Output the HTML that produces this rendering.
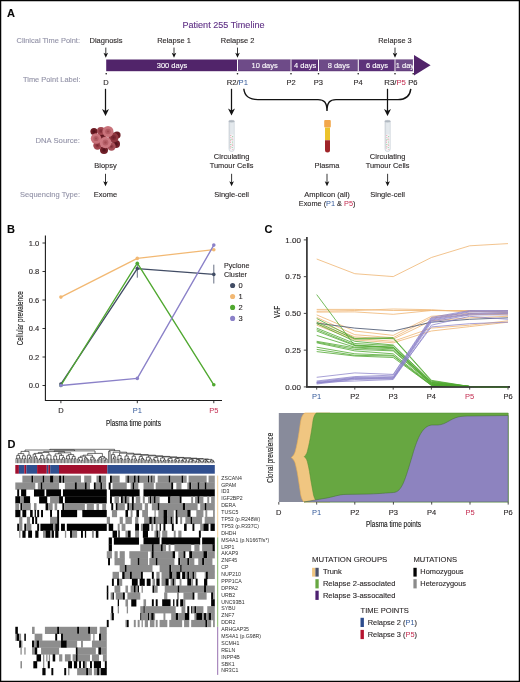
<!DOCTYPE html>
<html><head><meta charset="utf-8"><title>Patient 255 Timeline</title>
<style>
html,body{margin:0;padding:0;background:#fff;}
svg{display:block;font-family:"Liberation Sans", Arial, sans-serif;}
text{stroke-width:0.12px;}
</style></head><body>
<svg width="520" height="682" viewBox="0 0 520 682">
<rect x="0" y="0" width="520" height="682" fill="#fff"/>
<g style="opacity:0.99;isolation:isolate"><text opacity="0.99" x="7" y="17" font-size="11" fill="#000" stroke="#000" font-weight="bold">A</text>
<text opacity="0.99" x="182.5" y="28" font-size="9" fill="#5b2c83" stroke="#5b2c83" textLength="82" lengthAdjust="spacingAndGlyphs">Patient 255 Timeline</text>
<text opacity="0.99" x="80" y="42.5" font-size="7.5" fill="#9191a6" stroke="#9191a6" stroke-width="0.05" text-anchor="end" textLength="63.5" lengthAdjust="spacingAndGlyphs">Clinical Time Point:</text>
<text opacity="0.99" x="80.5" y="82" font-size="7.5" fill="#9191a6" stroke="#9191a6" stroke-width="0.05" text-anchor="end" textLength="57.5" lengthAdjust="spacingAndGlyphs">Time Point Label:</text>
<text opacity="0.99" x="80" y="142.5" font-size="7.5" fill="#9191a6" stroke="#9191a6" stroke-width="0.05" text-anchor="end" textLength="44.5" lengthAdjust="spacingAndGlyphs">DNA Source:</text>
<text opacity="0.99" x="80" y="196.5" font-size="7.5" fill="#9191a6" stroke="#9191a6" stroke-width="0.05" text-anchor="end">Sequencing Type:</text>
<text opacity="0.99" x="106" y="42.5" font-size="7.5" fill="#231f20" stroke="#231f20" text-anchor="middle" textLength="33" lengthAdjust="spacingAndGlyphs">Diagnosis</text>
<text opacity="0.99" x="174" y="42.5" font-size="7.5" fill="#231f20" stroke="#231f20" text-anchor="middle" textLength="33.75" lengthAdjust="spacingAndGlyphs">Relapse 1</text>
<text opacity="0.99" x="237.6" y="42.5" font-size="7.5" fill="#231f20" stroke="#231f20" text-anchor="middle" textLength="33.75" lengthAdjust="spacingAndGlyphs">Relapse 2</text>
<text opacity="0.99" x="395" y="42.5" font-size="7.5" fill="#231f20" stroke="#231f20" text-anchor="middle" textLength="33.5" lengthAdjust="spacingAndGlyphs">Relapse 3</text>
<line x1="105.8" y1="47.6" x2="105.8" y2="55.20" stroke="#111" stroke-width="0.85"/>
<path d="M103.5 52.70 L105.8 54.10 L108.1 52.70 L105.8 57.7 Z" fill="#111"/>
<line x1="174" y1="47.6" x2="174" y2="55.20" stroke="#111" stroke-width="0.85"/>
<path d="M171.7 52.70 L174 54.10 L176.3 52.70 L174 57.7 Z" fill="#111"/>
<line x1="237.5" y1="47.6" x2="237.5" y2="55.20" stroke="#111" stroke-width="0.85"/>
<path d="M235.2 52.70 L237.5 54.10 L239.8 52.70 L237.5 57.7 Z" fill="#111"/>
<line x1="395" y1="47.6" x2="395" y2="55.20" stroke="#111" stroke-width="0.85"/>
<path d="M392.7 52.70 L395 54.10 L397.3 52.70 L395 57.7 Z" fill="#111"/>
<rect x="106.2" y="59.5" width="307.3" height="11.7" fill="#4f2269"/>
<text opacity="0.99" x="172.0" y="67.8" font-size="7.5" fill="#fff" stroke="#fff" text-anchor="middle">300 days</text>
<rect x="237" y="59.4" width="1.1" height="11.9" fill="#fff"/>
<rect x="238.3" y="60" width="51.9" height="10.7" fill="#6d4987"/>
<text opacity="0.99" x="264.65" y="67.8" font-size="7.5" fill="#fff" stroke="#fff" text-anchor="middle">10 days</text>
<rect x="290.5" y="59.4" width="1.1" height="11.9" fill="#fff"/>
<rect x="291.8" y="60" width="25.9" height="10.7" fill="#5c3079"/>
<text opacity="0.99" x="305.15" y="67.8" font-size="7.5" fill="#fff" stroke="#fff" text-anchor="middle">4 days</text>
<rect x="318" y="59.4" width="1.1" height="11.9" fill="#fff"/>
<rect x="319.3" y="60" width="38.09999999999999" height="10.7" fill="#6d4987"/>
<text opacity="0.99" x="338.75" y="67.8" font-size="7.5" fill="#fff" stroke="#fff" text-anchor="middle">8 days</text>
<rect x="357.7" y="59.4" width="1.1" height="11.9" fill="#fff"/>
<rect x="359.0" y="60" width="35.20000000000001" height="10.7" fill="#5c3079"/>
<text opacity="0.99" x="377.0" y="67.8" font-size="7.5" fill="#fff" stroke="#fff" text-anchor="middle">6 days</text>
<rect x="394.5" y="59.4" width="1.1" height="11.9" fill="#fff"/>
<rect x="395.8" y="60" width="17.4" height="10.7" fill="#6d4987"/>
<text opacity="0.99" x="404.9" y="67.8" font-size="7.5" fill="#fff" stroke="#fff" text-anchor="middle">1 day</text>
<rect x="412.9" y="59.4" width="1.1" height="11.9" fill="#fff"/>
<path d="M414 55 L430.6 65.3 L414 75.6 Z" fill="#4f2269"/>
<circle cx="106.2" cy="73.7" r="0.8" fill="#111"/>
<circle cx="237.5" cy="73.7" r="0.8" fill="#111"/>
<circle cx="291" cy="73.7" r="0.8" fill="#111"/>
<circle cx="318.5" cy="73.7" r="0.8" fill="#111"/>
<circle cx="358.2" cy="73.7" r="0.8" fill="#111"/>
<circle cx="395" cy="73.7" r="0.8" fill="#111"/>
<circle cx="413.2" cy="73.7" r="0.8" fill="#111"/>
<text opacity="0.99" x="106" y="84.5" font-size="7.5" fill="#231f20" stroke="#231f20" text-anchor="middle">D</text>
<text opacity="0.99" x="226.75" y="84.5" font-size="7.5" fill="#231f20" stroke="#231f20" textLength="21.25" lengthAdjust="spacingAndGlyphs">R2/<tspan fill="#2f5597" stroke="none">P1</tspan></text>
<text opacity="0.99" x="291" y="84.5" font-size="7.5" fill="#231f20" stroke="#231f20" text-anchor="middle">P2</text>
<text opacity="0.99" x="318.3" y="84.5" font-size="7.5" fill="#231f20" stroke="#231f20" text-anchor="middle">P3</text>
<text opacity="0.99" x="358" y="84.5" font-size="7.5" fill="#231f20" stroke="#231f20" text-anchor="middle">P4</text>
<text opacity="0.99" x="384.25" y="84.5" font-size="7.5" fill="#231f20" stroke="#231f20" textLength="21.75" lengthAdjust="spacingAndGlyphs">R3/<tspan fill="#c2284c" stroke="none">P5</tspan></text>
<text opacity="0.99" x="408.25" y="84.5" font-size="7.5" fill="#231f20" stroke="#231f20" textLength="9.25" lengthAdjust="spacingAndGlyphs">P6</text>
<line x1="105.5" y1="88.8" x2="105.5" y2="112.50" stroke="#111" stroke-width="1.25"/>
<path d="M102.0 109.00 L105.5 110.96 L109.0 109.00 L105.5 116 Z" fill="#111"/>
<line x1="231.5" y1="88.8" x2="231.5" y2="112.00" stroke="#111" stroke-width="1.25"/>
<path d="M228.0 108.50 L231.5 110.46 L235.0 108.50 L231.5 115.5 Z" fill="#111"/>
<line x1="387.5" y1="88.8" x2="387.5" y2="112.50" stroke="#111" stroke-width="1.25"/>
<path d="M384.0 109.00 L387.5 110.96 L391.0 109.00 L387.5 116 Z" fill="#111"/>
<path d="M243.8 88.8 C244.5 96 249 99.6 258 99.6 L318 99.6 C324 99.6 327 102 327 111 C327 102 330 99.6 336 99.6 L398 99.6 C406 99.6 410 96 410.8 88.8" fill="none" stroke="#111" stroke-width="1.4"/>
<circle cx="94" cy="131.5" r="3.6" fill="#6b1a22"/>
<circle cx="94" cy="131.5" r="1.8" fill="#4a0f16" opacity="0.55"/>
<circle cx="94" cy="131.5" r="0.7" fill="#4a0f16"/>
<circle cx="117" cy="135" r="3.6" fill="#6b1a22"/>
<circle cx="117" cy="135" r="1.8" fill="#4a0f16" opacity="0.55"/>
<circle cx="117" cy="135" r="0.7" fill="#4a0f16"/>
<circle cx="116" cy="144" r="4" fill="#6f1d26"/>
<circle cx="116" cy="144" r="2.0" fill="#4a0f16" opacity="0.55"/>
<circle cx="116" cy="144" r="0.8" fill="#4a0f16"/>
<circle cx="104" cy="150" r="4" fill="#6f1d26"/>
<circle cx="104" cy="150" r="2.0" fill="#4a0f16" opacity="0.55"/>
<circle cx="104" cy="150" r="0.8" fill="#4a0f16"/>
<circle cx="102" cy="135.5" r="4.2" fill="#7e2a33"/>
<circle cx="102" cy="135.5" r="2.1" fill="#5a151d" opacity="0.55"/>
<circle cx="102" cy="135.5" r="0.8" fill="#5a151d"/>
<circle cx="101" cy="131" r="4" fill="#a0454e"/>
<circle cx="101" cy="131" r="2.0" fill="#7a2630" opacity="0.55"/>
<circle cx="101" cy="131" r="0.8" fill="#7a2630"/>
<circle cx="113.5" cy="137.5" r="5" fill="#8e343d"/>
<circle cx="113.5" cy="137.5" r="2.5" fill="#6a1c26" opacity="0.55"/>
<circle cx="113.5" cy="137.5" r="1.0" fill="#6a1c26"/>
<circle cx="97.5" cy="145.5" r="4.2" fill="#a0454e"/>
<circle cx="97.5" cy="145.5" r="2.1" fill="#7a2630" opacity="0.55"/>
<circle cx="97.5" cy="145.5" r="0.8" fill="#7a2630"/>
<circle cx="111.5" cy="146.5" r="4.2" fill="#a64e57"/>
<circle cx="111.5" cy="146.5" r="2.1" fill="#7e2a33" opacity="0.55"/>
<circle cx="111.5" cy="146.5" r="0.8" fill="#7e2a33"/>
<circle cx="108" cy="131.5" r="5.5" fill="#c9727a"/>
<circle cx="108" cy="131.5" r="2.8" fill="#a04850" opacity="0.55"/>
<circle cx="108" cy="131.5" r="1.1" fill="#a04850"/>
<circle cx="96" cy="138.5" r="5.2" fill="#c9727a"/>
<circle cx="96" cy="138.5" r="2.6" fill="#a04850" opacity="0.55"/>
<circle cx="96" cy="138.5" r="1.0" fill="#a04850"/>
<circle cx="105.5" cy="142.5" r="5.8" fill="#cc7880"/>
<circle cx="105.5" cy="142.5" r="2.9" fill="#a24a52" opacity="0.55"/>
<circle cx="105.5" cy="142.5" r="1.2" fill="#a24a52"/>
<text opacity="0.99" x="105.5" y="168" font-size="7.5" fill="#231f20" stroke="#231f20" text-anchor="middle" textLength="22.5" lengthAdjust="spacingAndGlyphs">Biopsy</text>
<line x1="105.5" y1="173.8" x2="105.5" y2="183.70" stroke="#111" stroke-width="0.85"/>
<path d="M103.2 181.20 L105.5 182.60 L107.8 181.20 L105.5 186.2 Z" fill="#111"/>
<text opacity="0.99" x="105.5" y="196.5" font-size="7.5" fill="#231f20" stroke="#231f20" text-anchor="middle">Exome</text>
<path d="M228.9 121.2 L228.9 148.9 A2.7 2.7 0 0 0 234.29999999999998 148.9 L234.29999999999998 121.2 Z" fill="#e4e9ed" stroke="#c3cbd2" stroke-width="0.5"/>
<path d="M229.7 134.6 L229.7 148.9 A1.9 1.9 0 0 0 233.5 148.9 L233.5 134.6 Z" fill="#f4f6f8"/>
<rect x="229.0" y="121.6" width="1.1" height="27" fill="#cfd6dc" opacity="0.8"/>
<ellipse cx="231.6" cy="121.2" rx="2.9" ry="0.95" fill="#b4bcc4" stroke="#9aa3ac" stroke-width="0.3"/>
<circle cx="230.8" cy="135.5" r="0.5" fill="#e48a94"/>
<circle cx="232.7" cy="136.6" r="0.5" fill="#7cc888"/>
<circle cx="230.8" cy="137.5" r="0.5" fill="#e9a0a8"/>
<circle cx="232.2" cy="138.1" r="0.5" fill="#e9a0a8"/>
<circle cx="231.0" cy="139.2" r="0.5" fill="#6fc07a"/>
<circle cx="232.7" cy="139.8" r="0.5" fill="#e48a94"/>
<circle cx="230.7" cy="140.8" r="0.5" fill="#e48a94"/>
<circle cx="232.5" cy="141.9" r="0.5" fill="#7cc888"/>
<circle cx="230.4" cy="142.6" r="0.5" fill="#e9a0a8"/>
<circle cx="232.4" cy="143.9" r="0.5" fill="#e9a0a8"/>
<circle cx="230.9" cy="144.4" r="0.5" fill="#6fc07a"/>
<circle cx="232.7" cy="145.3" r="0.5" fill="#e48a94"/>
<circle cx="230.8" cy="146.2" r="0.5" fill="#e48a94"/>
<circle cx="232.2" cy="147.6" r="0.5" fill="#7cc888"/>
<circle cx="230.5" cy="148.1" r="0.5" fill="#e9a0a8"/>
<circle cx="232.8" cy="149.4" r="0.5" fill="#e9a0a8"/>
<text opacity="0.99" x="231.6" y="158.8" font-size="7.5" fill="#231f20" stroke="#231f20" text-anchor="middle" textLength="35.5" lengthAdjust="spacingAndGlyphs">Circulating</text>
<text opacity="0.99" x="231.6" y="168" font-size="7.5" fill="#231f20" stroke="#231f20" text-anchor="middle" textLength="43.75" lengthAdjust="spacingAndGlyphs">Tumour Cells</text>
<line x1="231.6" y1="173.8" x2="231.6" y2="183.70" stroke="#111" stroke-width="0.85"/>
<path d="M229.29999999999998 181.20 L231.6 182.60 L233.9 181.20 L231.6 186.2 Z" fill="#111"/>
<text opacity="0.99" x="231.6" y="196.5" font-size="7.5" fill="#231f20" stroke="#231f20" text-anchor="middle" textLength="34.75" lengthAdjust="spacingAndGlyphs">Single-cell</text>
<path d="M384.90000000000003 121.2 L384.90000000000003 148.9 A2.7 2.7 0 0 0 390.3 148.9 L390.3 121.2 Z" fill="#e4e9ed" stroke="#c3cbd2" stroke-width="0.5"/>
<path d="M385.70000000000005 134.6 L385.70000000000005 148.9 A1.9 1.9 0 0 0 389.5 148.9 L389.5 134.6 Z" fill="#f4f6f8"/>
<rect x="385.0" y="121.6" width="1.1" height="27" fill="#cfd6dc" opacity="0.8"/>
<ellipse cx="387.6" cy="121.2" rx="2.9" ry="0.95" fill="#b4bcc4" stroke="#9aa3ac" stroke-width="0.3"/>
<circle cx="386.8" cy="135.5" r="0.5" fill="#e48a94"/>
<circle cx="388.7" cy="136.6" r="0.5" fill="#7cc888"/>
<circle cx="386.8" cy="137.5" r="0.5" fill="#e9a0a8"/>
<circle cx="388.2" cy="138.1" r="0.5" fill="#e9a0a8"/>
<circle cx="387.0" cy="139.2" r="0.5" fill="#6fc07a"/>
<circle cx="388.7" cy="139.8" r="0.5" fill="#e48a94"/>
<circle cx="386.7" cy="140.8" r="0.5" fill="#e48a94"/>
<circle cx="388.5" cy="141.9" r="0.5" fill="#7cc888"/>
<circle cx="386.4" cy="142.6" r="0.5" fill="#e9a0a8"/>
<circle cx="388.4" cy="143.9" r="0.5" fill="#e9a0a8"/>
<circle cx="386.9" cy="144.4" r="0.5" fill="#6fc07a"/>
<circle cx="388.7" cy="145.3" r="0.5" fill="#e48a94"/>
<circle cx="386.8" cy="146.2" r="0.5" fill="#e48a94"/>
<circle cx="388.2" cy="147.6" r="0.5" fill="#7cc888"/>
<circle cx="386.5" cy="148.1" r="0.5" fill="#e9a0a8"/>
<circle cx="388.8" cy="149.4" r="0.5" fill="#e9a0a8"/>
<text opacity="0.99" x="387.6" y="158.8" font-size="7.5" fill="#231f20" stroke="#231f20" text-anchor="middle" textLength="35.5" lengthAdjust="spacingAndGlyphs">Circulating</text>
<text opacity="0.99" x="387.6" y="168" font-size="7.5" fill="#231f20" stroke="#231f20" text-anchor="middle" textLength="43.75" lengthAdjust="spacingAndGlyphs">Tumour Cells</text>
<line x1="387.6" y1="173.8" x2="387.6" y2="183.70" stroke="#111" stroke-width="0.85"/>
<path d="M385.3 181.20 L387.6 182.60 L389.90000000000003 181.20 L387.6 186.2 Z" fill="#111"/>
<text opacity="0.99" x="387.6" y="196.5" font-size="7.5" fill="#231f20" stroke="#231f20" text-anchor="middle" textLength="34.75" lengthAdjust="spacingAndGlyphs">Single-cell</text>
<rect x="324.2" y="120" width="6.6" height="7.6" rx="1" fill="#f2a64a"/>
<rect x="325" y="127.6" width="5" height="12.6" fill="#ecc32a"/>
<path d="M325 140.2 L325 150 A2.5 2.5 0 0 0 330 150 L330 140.2 Z" fill="#9e2226"/>
<text opacity="0.99" x="327" y="168" font-size="7.5" fill="#231f20" stroke="#231f20" text-anchor="middle">Plasma</text>
<line x1="327" y1="173.8" x2="327" y2="183.70" stroke="#111" stroke-width="0.85"/>
<path d="M324.7 181.20 L327 182.60 L329.3 181.20 L327 186.2 Z" fill="#111"/>
<text opacity="0.99" x="327" y="196.5" font-size="7.5" fill="#231f20" stroke="#231f20" text-anchor="middle" textLength="45.75" lengthAdjust="spacingAndGlyphs">Amplicon (all)</text>
<text opacity="0.99" x="298.75" y="205.5" font-size="7.5" fill="#231f20" stroke="#231f20" textLength="56.75" lengthAdjust="spacingAndGlyphs">Exome (<tspan fill="#2f5597" stroke="none">P1</tspan> &amp; <tspan fill="#c2284c" stroke="none">P5</tspan>)</text>
<text opacity="0.99" x="7" y="232.5" font-size="11" fill="#000" stroke="#000" font-weight="bold">B</text>
<path d="M45.4 235.5 L45.4 400.5 L222 400.5" fill="none" stroke="#1a1a1a" stroke-width="1.1"/>
<line x1="42.5" y1="243.0" x2="45.4" y2="243.0" stroke="#1a1a1a" stroke-width="0.9"/>
<text opacity="0.99" x="39.2" y="245.6" font-size="7.4" fill="#231f20" stroke="#231f20" text-anchor="end" textLength="10.5" lengthAdjust="spacingAndGlyphs">1.0</text>
<line x1="42.5" y1="271.5" x2="45.4" y2="271.5" stroke="#1a1a1a" stroke-width="0.9"/>
<text opacity="0.99" x="39.2" y="274.1" font-size="7.4" fill="#231f20" stroke="#231f20" text-anchor="end" textLength="10.5" lengthAdjust="spacingAndGlyphs">0.8</text>
<line x1="42.5" y1="300.0" x2="45.4" y2="300.0" stroke="#1a1a1a" stroke-width="0.9"/>
<text opacity="0.99" x="39.2" y="302.6" font-size="7.4" fill="#231f20" stroke="#231f20" text-anchor="end" textLength="10.5" lengthAdjust="spacingAndGlyphs">0.6</text>
<line x1="42.5" y1="328.5" x2="45.4" y2="328.5" stroke="#1a1a1a" stroke-width="0.9"/>
<text opacity="0.99" x="39.2" y="331.1" font-size="7.4" fill="#231f20" stroke="#231f20" text-anchor="end" textLength="10.5" lengthAdjust="spacingAndGlyphs">0.4</text>
<line x1="42.5" y1="357.0" x2="45.4" y2="357.0" stroke="#1a1a1a" stroke-width="0.9"/>
<text opacity="0.99" x="39.2" y="359.6" font-size="7.4" fill="#231f20" stroke="#231f20" text-anchor="end" textLength="10.5" lengthAdjust="spacingAndGlyphs">0.2</text>
<line x1="42.5" y1="385.5" x2="45.4" y2="385.5" stroke="#1a1a1a" stroke-width="0.9"/>
<text opacity="0.99" x="39.2" y="388.1" font-size="7.4" fill="#231f20" stroke="#231f20" text-anchor="end" textLength="10.5" lengthAdjust="spacingAndGlyphs">0.0</text>
<line x1="60.9" y1="400.5" x2="60.9" y2="403.2" stroke="#1a1a1a" stroke-width="0.9"/>
<text opacity="0.99" x="60.9" y="412.9" font-size="7.5" fill="#231f20" stroke="#231f20" text-anchor="middle">D</text>
<line x1="137.3" y1="400.5" x2="137.3" y2="403.2" stroke="#1a1a1a" stroke-width="0.9"/>
<text opacity="0.99" x="137.3" y="412.9" font-size="7.5" fill="#2f5597" stroke="none" text-anchor="middle">P1</text>
<line x1="213.8" y1="400.5" x2="213.8" y2="403.2" stroke="#1a1a1a" stroke-width="0.9"/>
<text opacity="0.99" x="213.8" y="412.9" font-size="7.5" fill="#c2284c" stroke="none" text-anchor="middle">P5</text>
<text opacity="0.99" x="105.9" y="425.8" font-size="8.6" fill="#111" stroke="#111" textLength="55" lengthAdjust="spacingAndGlyphs">Plasma time points</text>
<text opacity="0.99" transform="translate(22.6,345.2) rotate(-90)" font-size="8.6" fill="#111" stroke="#111" textLength="54" lengthAdjust="spacingAndGlyphs">Cellular prevalence</text>
<line x1="137.3" y1="263" x2="137.3" y2="277.7" stroke="#3f4a63" stroke-width="0.8"/>
<line x1="213.8" y1="264.7" x2="213.8" y2="283.5" stroke="#3f4a63" stroke-width="0.8"/>
<polyline points="60.9,297.1 137.3,258.4 213.8,249.7" fill="none" stroke="#f2b872" stroke-width="1.35" stroke-linejoin="round"/>
<circle cx="60.9" cy="297.1" r="1.8" fill="#f2b872"/>
<circle cx="137.3" cy="258.4" r="1.8" fill="#f2b872"/>
<circle cx="213.8" cy="249.7" r="1.8" fill="#f2b872"/>
<polyline points="60.9,384.1 137.3,268.6 213.8,274.4" fill="none" stroke="#3f4a63" stroke-width="1.35" stroke-linejoin="round"/>
<circle cx="60.9" cy="384.1" r="1.8" fill="#3f4a63"/>
<circle cx="137.3" cy="268.6" r="1.8" fill="#3f4a63"/>
<circle cx="213.8" cy="274.4" r="1.8" fill="#3f4a63"/>
<polyline points="60.9,385.5 137.3,263.2 213.8,384.8" fill="none" stroke="#4ea72e" stroke-width="1.35" stroke-linejoin="round"/>
<circle cx="60.9" cy="385.5" r="1.8" fill="#4ea72e"/>
<circle cx="137.3" cy="263.2" r="1.8" fill="#4ea72e"/>
<circle cx="213.8" cy="384.8" r="1.8" fill="#4ea72e"/>
<polyline points="60.9,385.5 137.3,378.4 213.8,245.1" fill="none" stroke="#8a80c8" stroke-width="1.35" stroke-linejoin="round"/>
<circle cx="60.9" cy="385.5" r="1.8" fill="#8a80c8"/>
<circle cx="137.3" cy="378.4" r="1.8" fill="#8a80c8"/>
<circle cx="213.8" cy="245.1" r="1.8" fill="#8a80c8"/>
<text opacity="0.99" x="224" y="267.6" font-size="7.5" fill="#231f20" stroke="#231f20" textLength="25.5" lengthAdjust="spacingAndGlyphs">Pyclone</text>
<text opacity="0.99" x="224" y="276.7" font-size="7.5" fill="#231f20" stroke="#231f20" textLength="23" lengthAdjust="spacingAndGlyphs">Cluster</text>
<circle cx="232.6" cy="285.5" r="2.55" fill="#3f4a63"/>
<text opacity="0.99" x="238.4" y="288.2" font-size="7.5" fill="#231f20" stroke="#231f20">0</text>
<circle cx="232.6" cy="296.5" r="2.55" fill="#f2b872"/>
<text opacity="0.99" x="238.4" y="299.17" font-size="7.5" fill="#231f20" stroke="#231f20">1</text>
<circle cx="232.6" cy="307.4" r="2.55" fill="#4ea72e"/>
<text opacity="0.99" x="238.4" y="310.14" font-size="7.5" fill="#231f20" stroke="#231f20">2</text>
<circle cx="232.6" cy="318.4" r="2.55" fill="#8a80c8"/>
<text opacity="0.99" x="238.4" y="321.11" font-size="7.5" fill="#231f20" stroke="#231f20">3</text>
<text opacity="0.99" x="264.5" y="233" font-size="11" fill="#000" stroke="#000" font-weight="bold">C</text>
<path d="M306.9 237 L306.9 386.9 L510 386.9" fill="none" stroke="#333" stroke-width="1.7"/>
<line x1="303.8" y1="239.90" x2="306.9" y2="239.90" stroke="#333" stroke-width="0.9"/>
<text opacity="0.99" x="300.9" y="242.49999999999997" font-size="7.3" fill="#231f20" stroke="#231f20" text-anchor="end" textLength="15.6" lengthAdjust="spacingAndGlyphs">1.00</text>
<line x1="303.8" y1="276.65" x2="306.9" y2="276.65" stroke="#333" stroke-width="0.9"/>
<text opacity="0.99" x="300.9" y="279.25" font-size="7.3" fill="#231f20" stroke="#231f20" text-anchor="end" textLength="15.6" lengthAdjust="spacingAndGlyphs">0.75</text>
<line x1="303.8" y1="313.40" x2="306.9" y2="313.40" stroke="#333" stroke-width="0.9"/>
<text opacity="0.99" x="300.9" y="316.0" font-size="7.3" fill="#231f20" stroke="#231f20" text-anchor="end" textLength="15.6" lengthAdjust="spacingAndGlyphs">0.50</text>
<line x1="303.8" y1="350.15" x2="306.9" y2="350.15" stroke="#333" stroke-width="0.9"/>
<text opacity="0.99" x="300.9" y="352.75" font-size="7.3" fill="#231f20" stroke="#231f20" text-anchor="end" textLength="15.6" lengthAdjust="spacingAndGlyphs">0.25</text>
<line x1="303.8" y1="386.90" x2="306.9" y2="386.90" stroke="#333" stroke-width="0.9"/>
<text opacity="0.99" x="300.9" y="389.5" font-size="7.3" fill="#231f20" stroke="#231f20" text-anchor="end" textLength="15.6" lengthAdjust="spacingAndGlyphs">0.00</text>
<line x1="316.7" y1="386.9" x2="316.7" y2="389.6" stroke="#333" stroke-width="0.9"/>
<text opacity="0.99" x="316.7" y="399" font-size="7.5" fill="#2f5597" stroke="none" text-anchor="middle">P1</text>
<line x1="354.8" y1="386.9" x2="354.8" y2="389.6" stroke="#333" stroke-width="0.9"/>
<text opacity="0.99" x="354.8" y="399" font-size="7.5" fill="#231f20" stroke="#231f20" text-anchor="middle">P2</text>
<line x1="393.2" y1="386.9" x2="393.2" y2="389.6" stroke="#333" stroke-width="0.9"/>
<text opacity="0.99" x="393.2" y="399" font-size="7.5" fill="#231f20" stroke="#231f20" text-anchor="middle">P3</text>
<line x1="431.4" y1="386.9" x2="431.4" y2="389.6" stroke="#333" stroke-width="0.9"/>
<text opacity="0.99" x="431.4" y="399" font-size="7.5" fill="#231f20" stroke="#231f20" text-anchor="middle">P4</text>
<line x1="469.7" y1="386.9" x2="469.7" y2="389.6" stroke="#333" stroke-width="0.9"/>
<text opacity="0.99" x="469.7" y="399" font-size="7.5" fill="#c2284c" stroke="none" text-anchor="middle">P5</text>
<line x1="508.0" y1="386.9" x2="508.0" y2="389.6" stroke="#333" stroke-width="0.9"/>
<text opacity="0.99" x="508.0" y="399" font-size="7.5" fill="#231f20" stroke="#231f20" text-anchor="middle">P6</text>
<text opacity="0.99" transform="translate(280.2,317.9) rotate(-90)" font-size="9.2" fill="#111" stroke="#111" textLength="12.1" lengthAdjust="spacingAndGlyphs">VAF</text>
<polyline points="316.7,259.0 354.8,273.7 393.2,276.6 431.4,257.5 469.7,245.8 508.0,243.6" fill="none" stroke="#f0b878" stroke-width="0.85" stroke-linejoin="round" opacity="1"/>
<polyline points="316.7,309.4 354.8,309.4 393.2,310.5 431.4,310.5 469.7,310.5 508.0,311.9" fill="none" stroke="#f0b878" stroke-width="0.85" stroke-linejoin="round" opacity="1"/>
<polyline points="316.7,312.1 354.8,311.9 393.2,314.3 431.4,310.5 469.7,311.2 508.0,312.7" fill="none" stroke="#f0b878" stroke-width="0.85" stroke-linejoin="round" opacity="1"/>
<polyline points="316.7,311.2 354.8,310.5 393.2,309.0 431.4,309.7 469.7,311.9 508.0,310.5" fill="none" stroke="#f0b878" stroke-width="0.85" stroke-linejoin="round" opacity="1"/>
<polyline points="316.7,314.9 354.8,331.0 393.2,335.4 431.4,316.3 469.7,313.4 508.0,314.9" fill="none" stroke="#f0b878" stroke-width="0.85" stroke-linejoin="round" opacity="1"/>
<polyline points="316.7,317.4 354.8,334.7 393.2,337.7 431.4,317.8 469.7,314.9 508.0,313.4" fill="none" stroke="#f0b878" stroke-width="0.85" stroke-linejoin="round" opacity="1"/>
<polyline points="316.7,320.8 354.8,336.9 393.2,339.1 431.4,320.8 469.7,317.8 508.0,316.3" fill="none" stroke="#f0b878" stroke-width="0.85" stroke-linejoin="round" opacity="1"/>
<polyline points="316.7,323.7 354.8,338.4 393.2,341.3 431.4,328.1 469.7,325.2 508.0,320.8" fill="none" stroke="#f0b878" stroke-width="0.85" stroke-linejoin="round" opacity="1"/>
<polyline points="316.7,325.2 354.8,339.9 393.2,342.8 431.4,331.0 469.7,326.6 508.0,322.2" fill="none" stroke="#f0b878" stroke-width="0.85" stroke-linejoin="round" opacity="1"/>
<polyline points="316.7,323.1 354.8,328.1 393.2,331.0 431.4,322.2 469.7,319.3 508.0,317.8" fill="none" stroke="#4a5670" stroke-width="0.85" stroke-linejoin="round" opacity="1"/>
<polyline points="316.7,294.6 354.8,345.7 393.2,347.2 431.4,384.0 469.7,386.5 508.0,386.9" fill="none" stroke="#4ea72e" stroke-width="0.8" stroke-linejoin="round" opacity="1"/>
<polyline points="316.7,318.5 354.8,338.4 393.2,337.7 431.4,380.3 469.7,386.5 508.0,386.9" fill="none" stroke="#4ea72e" stroke-width="0.8" stroke-linejoin="round" opacity="1"/>
<polyline points="316.7,322.2 354.8,339.1 393.2,338.4 431.4,381.0 469.7,386.5 508.0,386.9" fill="none" stroke="#4ea72e" stroke-width="0.8" stroke-linejoin="round" opacity="1"/>
<polyline points="316.7,323.7 354.8,341.3 393.2,345.0 431.4,381.6 469.7,386.5 508.0,386.9" fill="none" stroke="#4ea72e" stroke-width="0.8" stroke-linejoin="round" opacity="1"/>
<polyline points="316.7,328.1 354.8,343.5 393.2,345.7 431.4,382.2 469.7,386.5 508.0,386.9" fill="none" stroke="#4ea72e" stroke-width="0.8" stroke-linejoin="round" opacity="1"/>
<polyline points="316.7,329.6 354.8,345.0 393.2,347.2 431.4,382.5 469.7,386.5 508.0,386.9" fill="none" stroke="#4ea72e" stroke-width="0.8" stroke-linejoin="round" opacity="1"/>
<polyline points="316.7,331.0 354.8,345.7 393.2,347.9 431.4,382.9 469.7,386.5 508.0,386.9" fill="none" stroke="#4ea72e" stroke-width="0.8" stroke-linejoin="round" opacity="1"/>
<polyline points="316.7,335.4 354.8,347.2 393.2,348.7 431.4,383.4 469.7,386.5 508.0,386.9" fill="none" stroke="#4ea72e" stroke-width="0.8" stroke-linejoin="round" opacity="1"/>
<polyline points="316.7,341.3 354.8,347.9 393.2,350.1 431.4,383.8 469.7,386.5 508.0,386.9" fill="none" stroke="#4ea72e" stroke-width="0.8" stroke-linejoin="round" opacity="1"/>
<polyline points="316.7,342.1 354.8,349.4 393.2,350.9 431.4,384.3 469.7,386.5 508.0,386.9" fill="none" stroke="#4ea72e" stroke-width="0.8" stroke-linejoin="round" opacity="1"/>
<polyline points="316.7,342.8 354.8,350.9 393.2,353.8 431.4,384.7 469.7,386.5 508.0,386.9" fill="none" stroke="#4ea72e" stroke-width="0.8" stroke-linejoin="round" opacity="1"/>
<polyline points="316.7,347.2 354.8,353.8 393.2,355.3 431.4,385.1 469.7,386.5 508.0,386.9" fill="none" stroke="#4ea72e" stroke-width="0.8" stroke-linejoin="round" opacity="1"/>
<polyline points="316.7,349.4 354.8,355.3 393.2,356.0 431.4,385.4 469.7,386.5 508.0,386.9" fill="none" stroke="#4ea72e" stroke-width="0.8" stroke-linejoin="round" opacity="1"/>
<polyline points="316.7,351.6 354.8,356.0 393.2,357.5 431.4,385.4 469.7,386.5 508.0,386.9" fill="none" stroke="#4ea72e" stroke-width="0.8" stroke-linejoin="round" opacity="1"/>
<polyline points="316.7,377.3 354.8,372.9 393.2,374.4 431.4,317.4 469.7,310.5 508.0,310.5" fill="none" stroke="#8a80c8" stroke-width="0.75" stroke-linejoin="round" opacity="1"/>
<polyline points="316.7,381.0 354.8,376.6 393.2,375.1 431.4,318.5 469.7,311.2 508.0,311.2" fill="none" stroke="#8a80c8" stroke-width="0.75" stroke-linejoin="round" opacity="1"/>
<polyline points="316.7,381.8 354.8,377.3 393.2,376.6 431.4,319.3 469.7,311.9 508.0,311.9" fill="none" stroke="#8a80c8" stroke-width="0.75" stroke-linejoin="round" opacity="1"/>
<polyline points="316.7,382.5 354.8,378.1 393.2,377.3 431.4,320.0 469.7,313.4 508.0,312.7" fill="none" stroke="#8a80c8" stroke-width="0.75" stroke-linejoin="round" opacity="1"/>
<polyline points="316.7,383.2 354.8,378.8 393.2,378.1 431.4,320.8 469.7,314.1 508.0,313.4" fill="none" stroke="#8a80c8" stroke-width="0.75" stroke-linejoin="round" opacity="1"/>
<polyline points="316.7,384.0 354.8,379.5 393.2,378.8 431.4,322.2 469.7,314.9 508.0,314.9" fill="none" stroke="#8a80c8" stroke-width="0.75" stroke-linejoin="round" opacity="1"/>
<polyline points="316.7,382.5 354.8,381.0 393.2,379.5 431.4,325.2 469.7,316.3 508.0,319.3" fill="none" stroke="#8a80c8" stroke-width="0.75" stroke-linejoin="round" opacity="1"/>
<polyline points="316.7,383.2 354.8,378.1 393.2,378.1 431.4,326.9 469.7,323.7 508.0,322.2" fill="none" stroke="#8a80c8" stroke-width="0.75" stroke-linejoin="round" opacity="1"/>
<path d="M306.1 386.9 L510 386.9" fill="none" stroke="#333" stroke-width="1.7" opacity="0.75"/>
<rect x="278.8" y="413" width="229.4" height="89" fill="#878a9a"/>
<path d="M291.2 457.6 C294 455.5 294.8 453 295.4 451 C296.8 446 297.8 440 298.5 435.8 C299.5 430 300 425 300.8 420.4 C301.5 417 302.8 414.5 304.6 413 L330 413 L330 502 L304 502 C302.5 500.5 301.5 498.5 300.8 495 C300 490 299.3 485 298.5 480 C297.8 475 296.8 469 295.4 464 C294.8 462 294 459.5 291.2 457.6 Z" fill="#f0c680" stroke="#e9ae52" stroke-width="0.6"/>
<path d="M304.2 456.6 C306.5 454.8 307.2 452.5 307.7 450 C309 445 310 439.5 310.8 435 C311.8 429.5 312.4 424.5 313.1 420 C313.7 417 314.8 414.3 316.2 413 L508.2 413 L508.2 502 L318 502 C316 501 314.5 499 313.5 495 C312.5 490 311.7 485 310.8 480 C310 474.5 309 468 307.7 463 C307.2 460.8 306.5 458.4 304.2 456.6 Z" fill="#66a63f" stroke="#4f8a2c" stroke-width="0.5"/>
<path d="M304 502 C312 500.5 318 499.5 324 498.5 C334 497 338 494.5 346 494.4 L370 494 C380 493.6 386 493 393.5 492.5 C402 492 405 480 412.5 455 C418 436 423 426 431.8 425 L438 425 C446 424.5 450 419 458 417 C462 416 466 416 470 416 L508.2 415.5 L508.2 502 Z" fill="#8c82bf" stroke="#3f6e2a" stroke-width="0.5"/>
<rect x="278.8" y="413" width="229.4" height="89" fill="none" stroke="none"/>
<line x1="278.8" y1="502" x2="278.8" y2="504.6" stroke="#333" stroke-width="0.9"/>
<text opacity="0.99" x="278.8" y="514.5" font-size="7.5" fill="#231f20" stroke="#231f20" text-anchor="middle">D</text>
<line x1="316.7" y1="502" x2="316.7" y2="504.6" stroke="#333" stroke-width="0.9"/>
<text opacity="0.99" x="316.7" y="514.5" font-size="7.5" fill="#2f5597" stroke="none" text-anchor="middle">P1</text>
<line x1="354.8" y1="502" x2="354.8" y2="504.6" stroke="#333" stroke-width="0.9"/>
<text opacity="0.99" x="354.8" y="514.5" font-size="7.5" fill="#231f20" stroke="#231f20" text-anchor="middle">P2</text>
<line x1="393.4" y1="502" x2="393.4" y2="504.6" stroke="#333" stroke-width="0.9"/>
<text opacity="0.99" x="393.4" y="514.5" font-size="7.5" fill="#231f20" stroke="#231f20" text-anchor="middle">P3</text>
<line x1="431.7" y1="502" x2="431.7" y2="504.6" stroke="#333" stroke-width="0.9"/>
<text opacity="0.99" x="431.7" y="514.5" font-size="7.5" fill="#231f20" stroke="#231f20" text-anchor="middle">P4</text>
<line x1="470" y1="502" x2="470" y2="504.6" stroke="#333" stroke-width="0.9"/>
<text opacity="0.99" x="470" y="514.5" font-size="7.5" fill="#c2284c" stroke="none" text-anchor="middle">P5</text>
<line x1="508.2" y1="502" x2="508.2" y2="504.6" stroke="#333" stroke-width="0.9"/>
<text opacity="0.99" x="508.2" y="514.5" font-size="7.5" fill="#231f20" stroke="#231f20" text-anchor="middle">P6</text>
<text opacity="0.99" x="366" y="527" font-size="8.6" fill="#111" stroke="#111" textLength="55" lengthAdjust="spacingAndGlyphs">Plasma time points</text>
<text opacity="0.99" transform="translate(272.9,482.8) rotate(-90)" font-size="8.9" fill="#111" stroke="#111" textLength="50" lengthAdjust="spacingAndGlyphs">Clonal prevalence</text>
<text opacity="0.99" x="312.1" y="562.2" font-size="7.8" fill="#231f20" stroke="#231f20" textLength="75.2" lengthAdjust="spacingAndGlyphs">MUTATION GROUPS</text>
<text opacity="0.99" x="413.4" y="562.2" font-size="7.8" fill="#231f20" stroke="#231f20" textLength="43.6" lengthAdjust="spacingAndGlyphs">MUTATIONS</text>
<rect x="312.1" y="567.8" width="3.3" height="8.8" fill="#f0c680"/>
<rect x="315.4" y="567.8" width="3.3" height="8.8" fill="#4a5068"/>
<text opacity="0.99" x="322.9" y="574.3" font-size="7.5" fill="#231f20" stroke="#231f20">Trunk</text>
<rect x="315.4" y="579.2" width="3.3" height="9.2" fill="#66a63f"/>
<text opacity="0.99" x="322.9" y="585.8" font-size="7.5" fill="#231f20" stroke="#231f20" textLength="72.6" lengthAdjust="spacingAndGlyphs">Relapse 2-associated</text>
<rect x="315.4" y="590.7" width="3.3" height="9.2" fill="#4b1f6f"/>
<text opacity="0.99" x="322.9" y="597.9" font-size="7.5" fill="#231f20" stroke="#231f20" textLength="72.6" lengthAdjust="spacingAndGlyphs">Relapse 3-assocaited</text>
<rect x="413.4" y="567.8" width="3.3" height="8.8" fill="#000"/>
<text opacity="0.99" x="420.3" y="574.3" font-size="7.5" fill="#231f20" stroke="#231f20" textLength="43.2" lengthAdjust="spacingAndGlyphs">Homozygous</text>
<rect x="413.4" y="579.2" width="3.3" height="9.2" fill="#8a8a8a"/>
<text opacity="0.99" x="420.3" y="585.8" font-size="7.5" fill="#231f20" stroke="#231f20" textLength="45.7" lengthAdjust="spacingAndGlyphs">Heterozygous</text>
<text opacity="0.99" x="360.5" y="612.6" font-size="7.8" fill="#231f20" stroke="#231f20" textLength="48.4" lengthAdjust="spacingAndGlyphs">TIME POINTS</text>
<rect x="360.5" y="617.8" width="3.4" height="9.2" fill="#2b4a8c"/>
<text opacity="0.99" x="367.7" y="625" font-size="7.5" fill="#231f20" stroke="#231f20" textLength="49.3" lengthAdjust="spacingAndGlyphs">Relapse 2 (<tspan fill="#2f5597" stroke="none">P1</tspan>)</text>
<rect x="360.5" y="629.9" width="3.4" height="9.2" fill="#b5122e"/>
<text opacity="0.99" x="367.7" y="637.1" font-size="7.5" fill="#231f20" stroke="#231f20" textLength="49.3" lengthAdjust="spacingAndGlyphs">Relapse 3 (<tspan fill="#c2284c" stroke="none">P5</tspan>)</text>
<text opacity="0.99" x="7.5" y="447.5" font-size="11" fill="#000" stroke="#000" font-weight="bold">D</text>
<rect x="15.3" y="465" width="3.60" height="8.7" fill="#a10d2c"/>
<rect x="18.9" y="465" width="5.40" height="8.7" fill="#2e4d8e"/>
<rect x="24.3" y="465" width="2.00" height="8.7" fill="#a10d2c"/>
<rect x="26.3" y="465" width="10.80" height="8.7" fill="#2e4d8e"/>
<rect x="37.1" y="465" width="9.70" height="8.7" fill="#a10d2c"/>
<rect x="46.8" y="465" width="1.50" height="8.7" fill="#2e4d8e"/>
<rect x="48.3" y="465" width="1.90" height="8.7" fill="#a10d2c"/>
<rect x="50.2" y="465" width="8.80" height="8.7" fill="#2e4d8e"/>
<rect x="59" y="465" width="48.30" height="8.7" fill="#a10d2c"/>
<rect x="107.3" y="465" width="107.50" height="8.7" fill="#2e4d8e"/>
<g shape-rendering="auto">
<rect x="22.38" y="475.60" width="9.02" height="7.22" fill="#8c8c8c"/>
<rect x="31.39" y="475.60" width="1.93" height="7.22" fill="#000"/>
<rect x="33.33" y="475.60" width="9.28" height="7.22" fill="#8c8c8c"/>
<rect x="42.60" y="475.60" width="1.93" height="7.22" fill="#000"/>
<rect x="44.54" y="475.60" width="5.54" height="7.22" fill="#8c8c8c"/>
<rect x="50.08" y="475.60" width="3.48" height="7.22" fill="#000"/>
<rect x="53.56" y="475.60" width="5.54" height="7.22" fill="#8c8c8c"/>
<rect x="59.10" y="475.60" width="1.93" height="7.22" fill="#000"/>
<rect x="61.03" y="475.60" width="1.67" height="7.22" fill="#8c8c8c"/>
<rect x="62.70" y="475.60" width="1.80" height="7.22" fill="#000"/>
<rect x="64.51" y="475.60" width="16.49" height="7.22" fill="#8c8c8c"/>
<rect x="84.22" y="475.60" width="7.09" height="7.22" fill="#8c8c8c"/>
<rect x="96.46" y="475.60" width="2.58" height="7.22" fill="#8c8c8c"/>
<rect x="99.04" y="475.60" width="1.93" height="7.22" fill="#000"/>
<rect x="100.97" y="475.60" width="5.15" height="7.22" fill="#8c8c8c"/>
<rect x="109.99" y="475.60" width="1.93" height="7.22" fill="#000"/>
<rect x="111.92" y="475.60" width="7.73" height="7.22" fill="#8c8c8c"/>
<rect x="125.45" y="475.60" width="1.93" height="7.22" fill="#8c8c8c"/>
<rect x="127.38" y="475.60" width="1.55" height="7.22" fill="#000"/>
<rect x="128.93" y="475.60" width="4.90" height="7.22" fill="#8c8c8c"/>
<rect x="133.83" y="475.60" width="1.93" height="7.22" fill="#000"/>
<rect x="135.76" y="475.60" width="1.93" height="7.22" fill="#8c8c8c"/>
<rect x="137.69" y="475.60" width="1.93" height="7.22" fill="#000"/>
<rect x="139.62" y="475.60" width="8.38" height="7.22" fill="#8c8c8c"/>
<rect x="148.00" y="475.60" width="1.29" height="7.22" fill="#000"/>
<rect x="149.29" y="475.60" width="1.93" height="7.22" fill="#8c8c8c"/>
<rect x="151.22" y="475.60" width="1.29" height="7.22" fill="#000"/>
<rect x="152.51" y="475.60" width="2.58" height="7.22" fill="#8c8c8c"/>
<rect x="157.66" y="475.60" width="10.95" height="7.22" fill="#8c8c8c"/>
<rect x="168.62" y="475.60" width="1.93" height="7.22" fill="#000"/>
<rect x="170.55" y="475.60" width="10.95" height="7.22" fill="#8c8c8c"/>
<rect x="181.50" y="475.60" width="1.93" height="7.22" fill="#000"/>
<rect x="183.43" y="475.60" width="3.22" height="7.22" fill="#8c8c8c"/>
<rect x="188.59" y="475.60" width="18.04" height="7.22" fill="#8c8c8c"/>
<rect x="208.56" y="475.60" width="6.24" height="7.22" fill="#8c8c8c"/>
<rect x="15.30" y="482.47" width="19.96" height="7.22" fill="#8c8c8c"/>
<rect x="37.84" y="482.47" width="2.83" height="7.22" fill="#8c8c8c"/>
<rect x="40.67" y="482.47" width="1.93" height="7.22" fill="#000"/>
<rect x="42.60" y="482.47" width="16.49" height="7.22" fill="#8c8c8c"/>
<rect x="64.89" y="482.47" width="9.92" height="7.22" fill="#8c8c8c"/>
<rect x="74.82" y="482.47" width="2.06" height="7.22" fill="#000"/>
<rect x="76.88" y="482.47" width="4.12" height="7.22" fill="#8c8c8c"/>
<rect x="81.00" y="482.47" width="3.87" height="7.22" fill="#8c8c8c"/>
<rect x="84.87" y="482.47" width="1.93" height="7.22" fill="#000"/>
<rect x="86.80" y="482.47" width="3.22" height="7.22" fill="#8c8c8c"/>
<rect x="93.88" y="482.47" width="1.93" height="7.22" fill="#000"/>
<rect x="95.82" y="482.47" width="4.51" height="7.22" fill="#8c8c8c"/>
<rect x="100.33" y="482.47" width="1.93" height="7.22" fill="#000"/>
<rect x="102.26" y="482.47" width="3.87" height="7.22" fill="#8c8c8c"/>
<rect x="108.70" y="482.47" width="1.93" height="7.22" fill="#000"/>
<rect x="112.57" y="482.47" width="14.17" height="7.22" fill="#8c8c8c"/>
<rect x="130.61" y="482.47" width="1.93" height="7.22" fill="#8c8c8c"/>
<rect x="132.54" y="482.47" width="1.93" height="7.22" fill="#000"/>
<rect x="134.47" y="482.47" width="3.87" height="7.22" fill="#8c8c8c"/>
<rect x="143.49" y="482.47" width="4.51" height="7.22" fill="#8c8c8c"/>
<rect x="148.00" y="482.47" width="5.80" height="7.22" fill="#8c8c8c"/>
<rect x="155.73" y="482.47" width="15.46" height="7.22" fill="#8c8c8c"/>
<rect x="171.19" y="482.47" width="1.93" height="7.22" fill="#000"/>
<rect x="176.35" y="482.47" width="5.15" height="7.22" fill="#8c8c8c"/>
<rect x="187.30" y="482.47" width="1.93" height="7.22" fill="#8c8c8c"/>
<rect x="189.23" y="482.47" width="1.93" height="7.22" fill="#000"/>
<rect x="191.16" y="482.47" width="6.44" height="7.22" fill="#8c8c8c"/>
<rect x="197.61" y="482.47" width="1.93" height="7.22" fill="#000"/>
<rect x="199.54" y="482.47" width="5.15" height="7.22" fill="#8c8c8c"/>
<rect x="204.69" y="482.47" width="1.93" height="7.22" fill="#000"/>
<rect x="206.62" y="482.47" width="8.18" height="7.22" fill="#8c8c8c"/>
<rect x="17.22" y="489.34" width="1.93" height="7.22" fill="#000"/>
<rect x="21.09" y="489.34" width="5.15" height="7.22" fill="#000"/>
<rect x="33.97" y="489.34" width="10.57" height="7.22" fill="#000"/>
<rect x="46.21" y="489.34" width="14.82" height="7.22" fill="#000"/>
<rect x="62.96" y="489.34" width="18.04" height="7.22" fill="#000"/>
<rect x="81.00" y="489.34" width="25.77" height="7.22" fill="#000"/>
<rect x="109.99" y="489.34" width="29.63" height="7.22" fill="#000"/>
<rect x="143.49" y="489.34" width="4.51" height="7.22" fill="#000"/>
<rect x="148.00" y="489.34" width="66.80" height="7.22" fill="#000"/>
<rect x="15.30" y="496.22" width="5.14" height="7.22" fill="#000"/>
<rect x="20.44" y="496.22" width="3.22" height="7.22" fill="#8c8c8c"/>
<rect x="23.66" y="496.22" width="6.44" height="7.22" fill="#000"/>
<rect x="39.12" y="496.22" width="8.12" height="7.22" fill="#000"/>
<rect x="50.08" y="496.22" width="9.02" height="7.22" fill="#8c8c8c"/>
<rect x="59.10" y="496.22" width="3.87" height="7.22" fill="#000"/>
<rect x="64.89" y="496.22" width="16.11" height="7.22" fill="#000"/>
<rect x="81.00" y="496.22" width="25.77" height="7.22" fill="#000"/>
<rect x="109.99" y="496.22" width="1.93" height="7.22" fill="#000"/>
<rect x="114.50" y="496.22" width="4.51" height="7.22" fill="#8c8c8c"/>
<rect x="120.94" y="496.22" width="1.93" height="7.22" fill="#000"/>
<rect x="122.88" y="496.22" width="1.93" height="7.22" fill="#8c8c8c"/>
<rect x="124.81" y="496.22" width="1.93" height="7.22" fill="#000"/>
<rect x="126.74" y="496.22" width="2.58" height="7.22" fill="#8c8c8c"/>
<rect x="131.89" y="496.22" width="1.93" height="7.22" fill="#000"/>
<rect x="135.76" y="496.22" width="4.51" height="7.22" fill="#8c8c8c"/>
<rect x="142.85" y="496.22" width="1.93" height="7.22" fill="#8c8c8c"/>
<rect x="148.00" y="496.22" width="1.93" height="7.22" fill="#8c8c8c"/>
<rect x="149.93" y="496.22" width="1.29" height="7.22" fill="#000"/>
<rect x="151.22" y="496.22" width="2.58" height="7.22" fill="#8c8c8c"/>
<rect x="153.80" y="496.22" width="1.93" height="7.22" fill="#000"/>
<rect x="155.73" y="496.22" width="3.87" height="7.22" fill="#8c8c8c"/>
<rect x="167.97" y="496.22" width="2.58" height="7.22" fill="#000"/>
<rect x="170.55" y="496.22" width="9.02" height="7.22" fill="#8c8c8c"/>
<rect x="179.57" y="496.22" width="1.93" height="7.22" fill="#000"/>
<rect x="191.16" y="496.22" width="1.93" height="7.22" fill="#8c8c8c"/>
<rect x="195.03" y="496.22" width="2.58" height="7.22" fill="#8c8c8c"/>
<rect x="197.61" y="496.22" width="1.93" height="7.22" fill="#000"/>
<rect x="199.54" y="496.22" width="3.87" height="7.22" fill="#8c8c8c"/>
<rect x="207.27" y="496.22" width="1.93" height="7.22" fill="#8c8c8c"/>
<rect x="211.13" y="496.22" width="3.67" height="7.22" fill="#8c8c8c"/>
<rect x="15.30" y="503.09" width="3.85" height="7.22" fill="#8c8c8c"/>
<rect x="20.44" y="503.09" width="1.93" height="7.22" fill="#000"/>
<rect x="22.38" y="503.09" width="8.38" height="7.22" fill="#8c8c8c"/>
<rect x="33.97" y="503.09" width="2.58" height="7.22" fill="#8c8c8c"/>
<rect x="45.57" y="503.09" width="2.58" height="7.22" fill="#000"/>
<rect x="48.14" y="503.09" width="4.51" height="7.22" fill="#8c8c8c"/>
<rect x="54.59" y="503.09" width="2.58" height="7.22" fill="#8c8c8c"/>
<rect x="62.32" y="503.09" width="1.93" height="7.22" fill="#000"/>
<rect x="64.25" y="503.09" width="16.75" height="7.22" fill="#8c8c8c"/>
<rect x="81.00" y="503.09" width="3.87" height="7.22" fill="#8c8c8c"/>
<rect x="86.80" y="503.09" width="7.09" height="7.22" fill="#8c8c8c"/>
<rect x="96.46" y="503.09" width="2.58" height="7.22" fill="#8c8c8c"/>
<rect x="102.26" y="503.09" width="3.87" height="7.22" fill="#8c8c8c"/>
<rect x="111.28" y="503.09" width="1.93" height="7.22" fill="#000"/>
<rect x="115.79" y="503.09" width="1.93" height="7.22" fill="#000"/>
<rect x="117.72" y="503.09" width="7.09" height="7.22" fill="#8c8c8c"/>
<rect x="127.38" y="503.09" width="1.93" height="7.22" fill="#000"/>
<rect x="129.32" y="503.09" width="2.58" height="7.22" fill="#8c8c8c"/>
<rect x="131.89" y="503.09" width="1.93" height="7.22" fill="#000"/>
<rect x="133.83" y="503.09" width="8.38" height="7.22" fill="#8c8c8c"/>
<rect x="144.78" y="503.09" width="3.22" height="7.22" fill="#8c8c8c"/>
<rect x="151.87" y="503.09" width="5.80" height="7.22" fill="#8c8c8c"/>
<rect x="157.66" y="503.09" width="1.93" height="7.22" fill="#000"/>
<rect x="159.60" y="503.09" width="23.19" height="7.22" fill="#8c8c8c"/>
<rect x="182.79" y="503.09" width="2.58" height="7.22" fill="#000"/>
<rect x="185.37" y="503.09" width="12.24" height="7.22" fill="#8c8c8c"/>
<rect x="200.18" y="503.09" width="4.51" height="7.22" fill="#8c8c8c"/>
<rect x="204.69" y="503.09" width="1.93" height="7.22" fill="#000"/>
<rect x="206.62" y="503.09" width="8.18" height="7.22" fill="#8c8c8c"/>
<rect x="15.30" y="509.96" width="5.14" height="7.22" fill="#000"/>
<rect x="22.38" y="509.96" width="3.87" height="7.22" fill="#000"/>
<rect x="30.11" y="509.96" width="2.58" height="7.22" fill="#000"/>
<rect x="34.62" y="509.96" width="1.29" height="7.22" fill="#000"/>
<rect x="37.19" y="509.96" width="1.93" height="7.22" fill="#000"/>
<rect x="41.06" y="509.96" width="1.93" height="7.22" fill="#000"/>
<rect x="50.08" y="509.96" width="1.93" height="7.22" fill="#000"/>
<rect x="57.16" y="509.96" width="1.93" height="7.22" fill="#000"/>
<rect x="61.03" y="509.96" width="16.11" height="7.22" fill="#000"/>
<rect x="82.29" y="509.96" width="24.48" height="7.22" fill="#000"/>
<rect x="111.92" y="509.96" width="5.15" height="7.22" fill="#8c8c8c"/>
<rect x="125.45" y="509.96" width="2.58" height="7.22" fill="#000"/>
<rect x="130.61" y="509.96" width="1.93" height="7.22" fill="#8c8c8c"/>
<rect x="136.40" y="509.96" width="2.58" height="7.22" fill="#000"/>
<rect x="142.20" y="509.96" width="5.80" height="7.22" fill="#8c8c8c"/>
<rect x="154.44" y="509.96" width="1.29" height="7.22" fill="#8c8c8c"/>
<rect x="158.31" y="509.96" width="5.15" height="7.22" fill="#8c8c8c"/>
<rect x="163.46" y="509.96" width="3.87" height="7.22" fill="#000"/>
<rect x="167.33" y="509.96" width="6.44" height="7.22" fill="#8c8c8c"/>
<rect x="175.70" y="509.96" width="1.93" height="7.22" fill="#000"/>
<rect x="177.63" y="509.96" width="9.66" height="7.22" fill="#8c8c8c"/>
<rect x="187.30" y="509.96" width="3.22" height="7.22" fill="#000"/>
<rect x="196.32" y="509.96" width="7.09" height="7.22" fill="#8c8c8c"/>
<rect x="205.34" y="509.96" width="1.93" height="7.22" fill="#8c8c8c"/>
<rect x="213.07" y="509.96" width="1.73" height="7.22" fill="#8c8c8c"/>
<rect x="19.15" y="516.83" width="3.22" height="7.22" fill="#8c8c8c"/>
<rect x="26.88" y="516.83" width="3.22" height="7.22" fill="#8c8c8c"/>
<rect x="32.04" y="516.83" width="1.93" height="7.22" fill="#000"/>
<rect x="35.26" y="516.83" width="1.93" height="7.22" fill="#000"/>
<rect x="50.08" y="516.83" width="7.09" height="7.22" fill="#8c8c8c"/>
<rect x="57.16" y="516.83" width="1.93" height="7.22" fill="#000"/>
<rect x="106.77" y="516.83" width="3.22" height="7.22" fill="#8c8c8c"/>
<rect x="119.65" y="516.83" width="3.22" height="7.22" fill="#8c8c8c"/>
<rect x="125.45" y="516.83" width="6.44" height="7.22" fill="#8c8c8c"/>
<rect x="135.12" y="516.83" width="3.22" height="7.22" fill="#8c8c8c"/>
<rect x="144.13" y="516.83" width="3.87" height="7.22" fill="#8c8c8c"/>
<rect x="148.00" y="516.83" width="1.29" height="7.22" fill="#8c8c8c"/>
<rect x="149.29" y="516.83" width="2.58" height="7.22" fill="#000"/>
<rect x="151.87" y="516.83" width="1.93" height="7.22" fill="#8c8c8c"/>
<rect x="153.80" y="516.83" width="1.93" height="7.22" fill="#000"/>
<rect x="155.73" y="516.83" width="7.73" height="7.22" fill="#8c8c8c"/>
<rect x="163.46" y="516.83" width="3.87" height="7.22" fill="#000"/>
<rect x="167.33" y="516.83" width="3.22" height="7.22" fill="#8c8c8c"/>
<rect x="170.55" y="516.83" width="1.93" height="7.22" fill="#000"/>
<rect x="172.48" y="516.83" width="1.29" height="7.22" fill="#8c8c8c"/>
<rect x="175.70" y="516.83" width="1.93" height="7.22" fill="#000"/>
<rect x="180.21" y="516.83" width="1.93" height="7.22" fill="#8c8c8c"/>
<rect x="185.37" y="516.83" width="5.15" height="7.22" fill="#8c8c8c"/>
<rect x="190.52" y="516.83" width="1.93" height="7.22" fill="#000"/>
<rect x="192.45" y="516.83" width="9.66" height="7.22" fill="#8c8c8c"/>
<rect x="204.69" y="516.83" width="10.11" height="7.22" fill="#8c8c8c"/>
<rect x="17.22" y="523.70" width="1.93" height="7.22" fill="#000"/>
<rect x="19.15" y="523.70" width="3.22" height="7.22" fill="#8c8c8c"/>
<rect x="24.31" y="523.70" width="1.93" height="7.22" fill="#000"/>
<rect x="26.24" y="523.70" width="5.15" height="7.22" fill="#8c8c8c"/>
<rect x="37.19" y="523.70" width="1.93" height="7.22" fill="#000"/>
<rect x="40.41" y="523.70" width="12.88" height="7.22" fill="#000"/>
<rect x="53.30" y="523.70" width="1.93" height="7.22" fill="#8c8c8c"/>
<rect x="55.23" y="523.70" width="3.87" height="7.22" fill="#000"/>
<rect x="61.03" y="523.70" width="3.87" height="7.22" fill="#000"/>
<rect x="66.83" y="523.70" width="14.17" height="7.22" fill="#000"/>
<rect x="81.00" y="523.70" width="25.77" height="7.22" fill="#000"/>
<rect x="108.70" y="523.70" width="4.51" height="7.22" fill="#000"/>
<rect x="117.72" y="523.70" width="1.93" height="7.22" fill="#8c8c8c"/>
<rect x="121.59" y="523.70" width="3.87" height="7.22" fill="#8c8c8c"/>
<rect x="135.12" y="523.70" width="3.87" height="7.22" fill="#000"/>
<rect x="140.91" y="523.70" width="1.93" height="7.22" fill="#8c8c8c"/>
<rect x="142.85" y="523.70" width="5.15" height="7.22" fill="#000"/>
<rect x="148.00" y="523.70" width="1.29" height="7.22" fill="#000"/>
<rect x="151.22" y="523.70" width="1.93" height="7.22" fill="#8c8c8c"/>
<rect x="155.73" y="523.70" width="1.93" height="7.22" fill="#8c8c8c"/>
<rect x="159.60" y="523.70" width="1.29" height="7.22" fill="#000"/>
<rect x="163.46" y="523.70" width="1.93" height="7.22" fill="#000"/>
<rect x="171.84" y="523.70" width="1.93" height="7.22" fill="#000"/>
<rect x="184.08" y="523.70" width="2.58" height="7.22" fill="#000"/>
<rect x="192.45" y="523.70" width="1.93" height="7.22" fill="#000"/>
<rect x="200.18" y="523.70" width="3.22" height="7.22" fill="#8c8c8c"/>
<rect x="203.40" y="523.70" width="5.15" height="7.22" fill="#000"/>
<rect x="210.49" y="523.70" width="4.31" height="7.22" fill="#000"/>
<rect x="19.15" y="530.58" width="1.29" height="7.22" fill="#8c8c8c"/>
<rect x="22.38" y="530.58" width="3.22" height="7.22" fill="#000"/>
<rect x="28.17" y="530.58" width="3.87" height="7.22" fill="#000"/>
<rect x="35.26" y="530.58" width="3.22" height="7.22" fill="#000"/>
<rect x="42.99" y="530.58" width="2.58" height="7.22" fill="#8c8c8c"/>
<rect x="45.57" y="530.58" width="4.51" height="7.22" fill="#000"/>
<rect x="50.08" y="530.58" width="1.93" height="7.22" fill="#8c8c8c"/>
<rect x="52.01" y="530.58" width="1.93" height="7.22" fill="#000"/>
<rect x="55.23" y="530.58" width="3.22" height="7.22" fill="#000"/>
<rect x="64.89" y="530.58" width="1.29" height="7.22" fill="#8c8c8c"/>
<rect x="70.05" y="530.58" width="1.93" height="7.22" fill="#000"/>
<rect x="71.98" y="530.58" width="5.15" height="7.22" fill="#8c8c8c"/>
<rect x="81.00" y="530.58" width="1.93" height="7.22" fill="#000"/>
<rect x="84.87" y="530.58" width="1.29" height="7.22" fill="#000"/>
<rect x="91.95" y="530.58" width="1.93" height="7.22" fill="#8c8c8c"/>
<rect x="95.82" y="530.58" width="2.58" height="7.22" fill="#000"/>
<rect x="112.57" y="530.58" width="4.51" height="7.22" fill="#000"/>
<rect x="118.37" y="530.58" width="1.29" height="7.22" fill="#000"/>
<rect x="125.45" y="530.58" width="2.58" height="7.22" fill="#8c8c8c"/>
<rect x="128.03" y="530.58" width="2.58" height="7.22" fill="#000"/>
<rect x="135.12" y="530.58" width="3.87" height="7.22" fill="#8c8c8c"/>
<rect x="142.85" y="530.58" width="5.15" height="7.22" fill="#000"/>
<rect x="154.44" y="530.58" width="1.93" height="7.22" fill="#8c8c8c"/>
<rect x="156.38" y="530.58" width="1.93" height="7.22" fill="#000"/>
<rect x="158.31" y="530.58" width="1.93" height="7.22" fill="#8c8c8c"/>
<rect x="162.17" y="530.58" width="5.15" height="7.22" fill="#8c8c8c"/>
<rect x="173.77" y="530.58" width="1.93" height="7.22" fill="#8c8c8c"/>
<rect x="178.28" y="530.58" width="3.22" height="7.22" fill="#8c8c8c"/>
<rect x="198.89" y="530.58" width="1.93" height="7.22" fill="#000"/>
<rect x="108.70" y="537.45" width="3.22" height="7.22" fill="#000"/>
<rect x="113.86" y="537.45" width="25.12" height="7.22" fill="#000"/>
<rect x="143.49" y="537.45" width="4.51" height="7.22" fill="#000"/>
<rect x="148.00" y="537.45" width="11.60" height="7.22" fill="#000"/>
<rect x="161.53" y="537.45" width="38.65" height="7.22" fill="#000"/>
<rect x="202.12" y="537.45" width="12.68" height="7.22" fill="#000"/>
<rect x="108.70" y="544.32" width="3.22" height="7.22" fill="#000"/>
<rect x="140.27" y="544.32" width="7.73" height="7.22" fill="#8c8c8c"/>
<rect x="148.00" y="544.32" width="3.87" height="7.22" fill="#8c8c8c"/>
<rect x="151.87" y="544.32" width="1.93" height="7.22" fill="#000"/>
<rect x="153.80" y="544.32" width="7.09" height="7.22" fill="#8c8c8c"/>
<rect x="160.88" y="544.32" width="1.93" height="7.22" fill="#000"/>
<rect x="162.82" y="544.32" width="3.22" height="7.22" fill="#8c8c8c"/>
<rect x="168.62" y="544.32" width="1.93" height="7.22" fill="#8c8c8c"/>
<rect x="174.41" y="544.32" width="16.75" height="7.22" fill="#8c8c8c"/>
<rect x="194.38" y="544.32" width="5.15" height="7.22" fill="#8c8c8c"/>
<rect x="202.12" y="544.32" width="10.31" height="7.22" fill="#8c8c8c"/>
<rect x="212.42" y="544.32" width="2.38" height="7.22" fill="#000"/>
<rect x="106.77" y="551.19" width="5.15" height="7.22" fill="#8c8c8c"/>
<rect x="114.50" y="551.19" width="3.22" height="7.22" fill="#8c8c8c"/>
<rect x="119.65" y="551.19" width="5.15" height="7.22" fill="#8c8c8c"/>
<rect x="129.32" y="551.19" width="18.68" height="7.22" fill="#8c8c8c"/>
<rect x="150.58" y="551.19" width="1.29" height="7.22" fill="#8c8c8c"/>
<rect x="151.87" y="551.19" width="1.93" height="7.22" fill="#000"/>
<rect x="153.80" y="551.19" width="18.68" height="7.22" fill="#8c8c8c"/>
<rect x="172.48" y="551.19" width="2.58" height="7.22" fill="#000"/>
<rect x="178.28" y="551.19" width="5.15" height="7.22" fill="#8c8c8c"/>
<rect x="183.43" y="551.19" width="1.93" height="7.22" fill="#000"/>
<rect x="189.23" y="551.19" width="3.22" height="7.22" fill="#000"/>
<rect x="192.45" y="551.19" width="10.95" height="7.22" fill="#8c8c8c"/>
<rect x="203.40" y="551.19" width="3.87" height="7.22" fill="#000"/>
<rect x="207.27" y="551.19" width="7.53" height="7.22" fill="#8c8c8c"/>
<rect x="108.06" y="558.06" width="1.93" height="7.22" fill="#000"/>
<rect x="114.50" y="558.06" width="10.31" height="7.22" fill="#8c8c8c"/>
<rect x="130.61" y="558.06" width="7.09" height="7.22" fill="#8c8c8c"/>
<rect x="137.69" y="558.06" width="1.93" height="7.22" fill="#000"/>
<rect x="139.62" y="558.06" width="8.38" height="7.22" fill="#8c8c8c"/>
<rect x="149.29" y="558.06" width="6.44" height="7.22" fill="#8c8c8c"/>
<rect x="155.73" y="558.06" width="1.93" height="7.22" fill="#000"/>
<rect x="157.66" y="558.06" width="16.75" height="7.22" fill="#8c8c8c"/>
<rect x="178.28" y="558.06" width="1.93" height="7.22" fill="#000"/>
<rect x="180.21" y="558.06" width="7.09" height="7.22" fill="#8c8c8c"/>
<rect x="187.30" y="558.06" width="1.93" height="7.22" fill="#000"/>
<rect x="189.23" y="558.06" width="5.15" height="7.22" fill="#8c8c8c"/>
<rect x="198.25" y="558.06" width="3.87" height="7.22" fill="#8c8c8c"/>
<rect x="202.12" y="558.06" width="1.93" height="7.22" fill="#000"/>
<rect x="204.05" y="558.06" width="8.38" height="7.22" fill="#8c8c8c"/>
<rect x="119.65" y="564.94" width="5.15" height="7.22" fill="#8c8c8c"/>
<rect x="124.81" y="564.94" width="1.93" height="7.22" fill="#000"/>
<rect x="126.74" y="564.94" width="21.26" height="7.22" fill="#8c8c8c"/>
<rect x="148.00" y="564.94" width="4.51" height="7.22" fill="#8c8c8c"/>
<rect x="159.60" y="564.94" width="9.66" height="7.22" fill="#8c8c8c"/>
<rect x="169.26" y="564.94" width="1.93" height="7.22" fill="#000"/>
<rect x="171.19" y="564.94" width="9.02" height="7.22" fill="#8c8c8c"/>
<rect x="180.21" y="564.94" width="1.55" height="7.22" fill="#000"/>
<rect x="181.76" y="564.94" width="33.04" height="7.22" fill="#8c8c8c"/>
<rect x="112.57" y="571.81" width="6.44" height="7.22" fill="#8c8c8c"/>
<rect x="122.23" y="571.81" width="2.58" height="7.22" fill="#000"/>
<rect x="124.81" y="571.81" width="5.15" height="7.22" fill="#8c8c8c"/>
<rect x="129.96" y="571.81" width="1.93" height="7.22" fill="#000"/>
<rect x="131.89" y="571.81" width="9.02" height="7.22" fill="#8c8c8c"/>
<rect x="140.91" y="571.81" width="1.93" height="7.22" fill="#000"/>
<rect x="151.87" y="571.81" width="1.93" height="7.22" fill="#000"/>
<rect x="156.38" y="571.81" width="3.22" height="7.22" fill="#8c8c8c"/>
<rect x="161.53" y="571.81" width="7.73" height="7.22" fill="#8c8c8c"/>
<rect x="169.26" y="571.81" width="3.22" height="7.22" fill="#000"/>
<rect x="172.48" y="571.81" width="3.87" height="7.22" fill="#8c8c8c"/>
<rect x="176.35" y="571.81" width="3.87" height="7.22" fill="#000"/>
<rect x="182.14" y="571.81" width="3.22" height="7.22" fill="#000"/>
<rect x="185.37" y="571.81" width="1.93" height="7.22" fill="#8c8c8c"/>
<rect x="187.30" y="571.81" width="1.93" height="7.22" fill="#000"/>
<rect x="189.23" y="571.81" width="3.22" height="7.22" fill="#8c8c8c"/>
<rect x="192.45" y="571.81" width="1.93" height="7.22" fill="#000"/>
<rect x="194.38" y="571.81" width="1.93" height="7.22" fill="#8c8c8c"/>
<rect x="204.69" y="571.81" width="1.29" height="7.22" fill="#8c8c8c"/>
<rect x="205.98" y="571.81" width="1.93" height="7.22" fill="#000"/>
<rect x="207.91" y="571.81" width="6.89" height="7.22" fill="#8c8c8c"/>
<rect x="111.92" y="578.68" width="1.93" height="7.22" fill="#000"/>
<rect x="117.08" y="578.68" width="1.93" height="7.22" fill="#000"/>
<rect x="119.01" y="578.68" width="3.22" height="7.22" fill="#8c8c8c"/>
<rect x="131.89" y="578.68" width="5.80" height="7.22" fill="#000"/>
<rect x="139.62" y="578.68" width="5.15" height="7.22" fill="#000"/>
<rect x="146.71" y="578.68" width="1.29" height="7.22" fill="#000"/>
<rect x="148.00" y="578.68" width="2.58" height="7.22" fill="#000"/>
<rect x="152.51" y="578.68" width="2.58" height="7.22" fill="#8c8c8c"/>
<rect x="156.38" y="578.68" width="3.22" height="7.22" fill="#000"/>
<rect x="161.53" y="578.68" width="3.87" height="7.22" fill="#8c8c8c"/>
<rect x="165.39" y="578.68" width="3.22" height="7.22" fill="#000"/>
<rect x="170.55" y="578.68" width="1.93" height="7.22" fill="#8c8c8c"/>
<rect x="172.48" y="578.68" width="1.93" height="7.22" fill="#000"/>
<rect x="174.41" y="578.68" width="1.29" height="7.22" fill="#8c8c8c"/>
<rect x="179.57" y="578.68" width="1.93" height="7.22" fill="#8c8c8c"/>
<rect x="187.30" y="578.68" width="3.87" height="7.22" fill="#000"/>
<rect x="191.16" y="578.68" width="1.93" height="7.22" fill="#8c8c8c"/>
<rect x="195.67" y="578.68" width="1.93" height="7.22" fill="#000"/>
<rect x="204.05" y="578.68" width="3.22" height="7.22" fill="#000"/>
<rect x="106.77" y="585.55" width="1.55" height="7.22" fill="#000"/>
<rect x="114.50" y="585.55" width="5.80" height="7.22" fill="#8c8c8c"/>
<rect x="125.45" y="585.55" width="2.58" height="7.22" fill="#8c8c8c"/>
<rect x="130.61" y="585.55" width="3.22" height="7.22" fill="#8c8c8c"/>
<rect x="133.83" y="585.55" width="1.93" height="7.22" fill="#000"/>
<rect x="135.76" y="585.55" width="1.93" height="7.22" fill="#8c8c8c"/>
<rect x="137.69" y="585.55" width="1.29" height="7.22" fill="#000"/>
<rect x="141.56" y="585.55" width="1.29" height="7.22" fill="#8c8c8c"/>
<rect x="152.51" y="585.55" width="1.93" height="7.22" fill="#000"/>
<rect x="154.44" y="585.55" width="3.22" height="7.22" fill="#8c8c8c"/>
<rect x="164.75" y="585.55" width="12.88" height="7.22" fill="#8c8c8c"/>
<rect x="177.63" y="585.55" width="1.93" height="7.22" fill="#000"/>
<rect x="179.57" y="585.55" width="24.48" height="7.22" fill="#8c8c8c"/>
<rect x="204.05" y="585.55" width="1.93" height="7.22" fill="#000"/>
<rect x="205.98" y="585.55" width="8.82" height="7.22" fill="#8c8c8c"/>
<rect x="106.77" y="592.42" width="1.55" height="7.22" fill="#000"/>
<rect x="110.63" y="592.42" width="1.93" height="7.22" fill="#8c8c8c"/>
<rect x="112.57" y="592.42" width="1.29" height="7.22" fill="#000"/>
<rect x="115.79" y="592.42" width="7.09" height="7.22" fill="#8c8c8c"/>
<rect x="122.88" y="592.42" width="1.93" height="7.22" fill="#000"/>
<rect x="127.38" y="592.42" width="12.88" height="7.22" fill="#8c8c8c"/>
<rect x="164.11" y="592.42" width="3.22" height="7.22" fill="#8c8c8c"/>
<rect x="176.99" y="592.42" width="1.93" height="7.22" fill="#8c8c8c"/>
<rect x="183.43" y="592.42" width="9.02" height="7.22" fill="#8c8c8c"/>
<rect x="192.45" y="592.42" width="1.93" height="7.22" fill="#000"/>
<rect x="197.61" y="592.42" width="9.02" height="7.22" fill="#8c8c8c"/>
<rect x="211.13" y="592.42" width="1.93" height="7.22" fill="#000"/>
<rect x="213.07" y="592.42" width="1.73" height="7.22" fill="#8c8c8c"/>
<rect x="117.72" y="599.30" width="1.29" height="7.22" fill="#000"/>
<rect x="125.45" y="599.30" width="2.58" height="7.22" fill="#8c8c8c"/>
<rect x="131.25" y="599.30" width="5.15" height="7.22" fill="#000"/>
<rect x="143.49" y="599.30" width="2.58" height="7.22" fill="#8c8c8c"/>
<rect x="151.87" y="599.30" width="1.93" height="7.22" fill="#000"/>
<rect x="155.73" y="599.30" width="1.93" height="7.22" fill="#000"/>
<rect x="162.17" y="599.30" width="8.38" height="7.22" fill="#000"/>
<rect x="173.12" y="599.30" width="1.29" height="7.22" fill="#000"/>
<rect x="176.35" y="599.30" width="1.93" height="7.22" fill="#000"/>
<rect x="180.21" y="599.30" width="3.22" height="7.22" fill="#000"/>
<rect x="183.43" y="599.30" width="1.93" height="7.22" fill="#8c8c8c"/>
<rect x="211.13" y="599.30" width="3.67" height="7.22" fill="#000"/>
<rect x="111.28" y="606.17" width="1.93" height="7.22" fill="#000"/>
<rect x="117.72" y="606.17" width="1.29" height="7.22" fill="#8c8c8c"/>
<rect x="126.74" y="606.17" width="1.29" height="7.22" fill="#8c8c8c"/>
<rect x="140.27" y="606.17" width="3.22" height="7.22" fill="#8c8c8c"/>
<rect x="143.49" y="606.17" width="1.29" height="7.22" fill="#000"/>
<rect x="144.78" y="606.17" width="3.22" height="7.22" fill="#8c8c8c"/>
<rect x="148.00" y="606.17" width="27.70" height="7.22" fill="#8c8c8c"/>
<rect x="181.50" y="606.17" width="3.87" height="7.22" fill="#8c8c8c"/>
<rect x="187.30" y="606.17" width="1.93" height="7.22" fill="#000"/>
<rect x="191.16" y="606.17" width="1.29" height="7.22" fill="#000"/>
<rect x="192.45" y="606.17" width="1.93" height="7.22" fill="#8c8c8c"/>
<rect x="194.38" y="606.17" width="1.93" height="7.22" fill="#000"/>
<rect x="196.32" y="606.17" width="7.09" height="7.22" fill="#8c8c8c"/>
<rect x="207.27" y="606.17" width="7.53" height="7.22" fill="#8c8c8c"/>
<rect x="110.63" y="613.04" width="1.29" height="7.22" fill="#8c8c8c"/>
<rect x="111.92" y="613.04" width="1.93" height="7.22" fill="#000"/>
<rect x="140.27" y="613.04" width="1.29" height="7.22" fill="#000"/>
<rect x="141.56" y="613.04" width="6.44" height="7.22" fill="#8c8c8c"/>
<rect x="148.00" y="613.04" width="1.29" height="7.22" fill="#000"/>
<rect x="149.29" y="613.04" width="1.93" height="7.22" fill="#8c8c8c"/>
<rect x="151.22" y="613.04" width="2.58" height="7.22" fill="#000"/>
<rect x="153.80" y="613.04" width="1.29" height="7.22" fill="#8c8c8c"/>
<rect x="163.46" y="613.04" width="1.93" height="7.22" fill="#8c8c8c"/>
<rect x="171.19" y="613.04" width="4.51" height="7.22" fill="#8c8c8c"/>
<rect x="175.70" y="613.04" width="2.58" height="7.22" fill="#000"/>
<rect x="178.28" y="613.04" width="6.44" height="7.22" fill="#8c8c8c"/>
<rect x="184.72" y="613.04" width="4.51" height="7.22" fill="#000"/>
<rect x="194.38" y="613.04" width="1.93" height="7.22" fill="#8c8c8c"/>
<rect x="196.32" y="613.04" width="5.80" height="7.22" fill="#000"/>
<rect x="202.12" y="613.04" width="1.93" height="7.22" fill="#8c8c8c"/>
<rect x="204.05" y="613.04" width="1.93" height="7.22" fill="#000"/>
<rect x="205.98" y="613.04" width="2.58" height="7.22" fill="#8c8c8c"/>
<rect x="208.56" y="613.04" width="2.58" height="7.22" fill="#000"/>
<rect x="211.13" y="613.04" width="3.67" height="7.22" fill="#8c8c8c"/>
<rect x="106.77" y="619.91" width="1.93" height="7.22" fill="#000"/>
<rect x="125.45" y="619.91" width="1.29" height="7.22" fill="#8c8c8c"/>
<rect x="126.74" y="619.91" width="1.93" height="7.22" fill="#000"/>
<rect x="133.83" y="619.91" width="1.93" height="7.22" fill="#8c8c8c"/>
<rect x="137.69" y="619.91" width="1.93" height="7.22" fill="#8c8c8c"/>
<rect x="141.56" y="619.91" width="1.29" height="7.22" fill="#8c8c8c"/>
<rect x="144.78" y="619.91" width="3.22" height="7.22" fill="#8c8c8c"/>
<rect x="149.93" y="619.91" width="4.51" height="7.22" fill="#8c8c8c"/>
<rect x="155.73" y="619.91" width="1.93" height="7.22" fill="#8c8c8c"/>
<rect x="159.60" y="619.91" width="7.73" height="7.22" fill="#8c8c8c"/>
<rect x="169.26" y="619.91" width="12.88" height="7.22" fill="#8c8c8c"/>
<rect x="184.08" y="619.91" width="5.15" height="7.22" fill="#8c8c8c"/>
<rect x="191.16" y="619.91" width="14.17" height="7.22" fill="#8c8c8c"/>
<rect x="205.34" y="619.91" width="1.93" height="7.22" fill="#000"/>
<rect x="207.27" y="619.91" width="3.87" height="7.22" fill="#8c8c8c"/>
<rect x="213.07" y="619.91" width="1.73" height="7.22" fill="#8c8c8c"/>
<rect x="15.30" y="626.78" width="2.57" height="7.22" fill="#000"/>
<rect x="32.04" y="626.78" width="2.58" height="7.22" fill="#8c8c8c"/>
<rect x="44.92" y="626.78" width="12.24" height="7.22" fill="#8c8c8c"/>
<rect x="57.16" y="626.78" width="1.93" height="7.22" fill="#000"/>
<rect x="59.10" y="626.78" width="18.04" height="7.22" fill="#8c8c8c"/>
<rect x="77.13" y="626.78" width="1.93" height="7.22" fill="#000"/>
<rect x="79.07" y="626.78" width="1.93" height="7.22" fill="#8c8c8c"/>
<rect x="81.00" y="626.78" width="7.09" height="7.22" fill="#8c8c8c"/>
<rect x="88.09" y="626.78" width="1.93" height="7.22" fill="#000"/>
<rect x="90.02" y="626.78" width="7.09" height="7.22" fill="#8c8c8c"/>
<rect x="99.68" y="626.78" width="7.09" height="7.22" fill="#8c8c8c"/>
<rect x="15.30" y="633.66" width="1.28" height="7.22" fill="#8c8c8c"/>
<rect x="16.58" y="633.66" width="2.58" height="7.22" fill="#000"/>
<rect x="19.15" y="633.66" width="1.93" height="7.22" fill="#8c8c8c"/>
<rect x="24.31" y="633.66" width="1.55" height="7.22" fill="#000"/>
<rect x="34.62" y="633.66" width="7.73" height="7.22" fill="#8c8c8c"/>
<rect x="55.23" y="633.66" width="1.93" height="7.22" fill="#000"/>
<rect x="61.03" y="633.66" width="1.93" height="7.22" fill="#000"/>
<rect x="62.96" y="633.66" width="18.04" height="7.22" fill="#8c8c8c"/>
<rect x="81.00" y="633.66" width="9.66" height="7.22" fill="#8c8c8c"/>
<rect x="93.24" y="633.66" width="1.29" height="7.22" fill="#8c8c8c"/>
<rect x="99.04" y="633.66" width="1.93" height="7.22" fill="#000"/>
<rect x="100.97" y="633.66" width="5.80" height="7.22" fill="#8c8c8c"/>
<rect x="19.15" y="640.53" width="1.93" height="7.22" fill="#000"/>
<rect x="21.09" y="640.53" width="1.29" height="7.22" fill="#8c8c8c"/>
<rect x="32.04" y="640.53" width="1.93" height="7.22" fill="#000"/>
<rect x="33.97" y="640.53" width="2.58" height="7.22" fill="#8c8c8c"/>
<rect x="36.55" y="640.53" width="2.58" height="7.22" fill="#000"/>
<rect x="39.12" y="640.53" width="21.90" height="7.22" fill="#8c8c8c"/>
<rect x="61.03" y="640.53" width="5.80" height="7.22" fill="#000"/>
<rect x="66.83" y="640.53" width="10.31" height="7.22" fill="#8c8c8c"/>
<rect x="81.00" y="640.53" width="1.93" height="7.22" fill="#8c8c8c"/>
<rect x="91.95" y="640.53" width="14.82" height="7.22" fill="#8c8c8c"/>
<rect x="20.44" y="647.40" width="1.29" height="7.22" fill="#8c8c8c"/>
<rect x="24.31" y="647.40" width="1.29" height="7.22" fill="#8c8c8c"/>
<rect x="32.04" y="647.40" width="2.58" height="7.22" fill="#8c8c8c"/>
<rect x="34.62" y="647.40" width="2.58" height="7.22" fill="#000"/>
<rect x="41.06" y="647.40" width="18.04" height="7.22" fill="#8c8c8c"/>
<rect x="75.85" y="647.40" width="1.93" height="7.22" fill="#000"/>
<rect x="77.78" y="647.40" width="3.22" height="7.22" fill="#8c8c8c"/>
<rect x="81.00" y="647.40" width="14.82" height="7.22" fill="#8c8c8c"/>
<rect x="98.39" y="647.40" width="2.58" height="7.22" fill="#000"/>
<rect x="100.97" y="647.40" width="5.80" height="7.22" fill="#8c8c8c"/>
<rect x="36.55" y="654.27" width="4.51" height="7.22" fill="#000"/>
<rect x="42.99" y="654.27" width="1.29" height="7.22" fill="#8c8c8c"/>
<rect x="46.21" y="654.27" width="1.29" height="7.22" fill="#8c8c8c"/>
<rect x="48.79" y="654.27" width="1.29" height="7.22" fill="#8c8c8c"/>
<rect x="52.65" y="654.27" width="2.58" height="7.22" fill="#000"/>
<rect x="59.10" y="654.27" width="3.22" height="7.22" fill="#8c8c8c"/>
<rect x="64.89" y="654.27" width="5.80" height="7.22" fill="#8c8c8c"/>
<rect x="72.62" y="654.27" width="3.22" height="7.22" fill="#8c8c8c"/>
<rect x="75.85" y="654.27" width="1.93" height="7.22" fill="#000"/>
<rect x="77.78" y="654.27" width="3.22" height="7.22" fill="#8c8c8c"/>
<rect x="81.00" y="654.27" width="9.02" height="7.22" fill="#8c8c8c"/>
<rect x="91.95" y="654.27" width="7.09" height="7.22" fill="#8c8c8c"/>
<rect x="102.90" y="654.27" width="3.87" height="7.22" fill="#8c8c8c"/>
<rect x="20.44" y="661.14" width="1.55" height="7.22" fill="#8c8c8c"/>
<rect x="33.33" y="661.14" width="3.87" height="7.22" fill="#000"/>
<rect x="42.99" y="661.14" width="1.29" height="7.22" fill="#8c8c8c"/>
<rect x="47.76" y="661.14" width="2.06" height="7.22" fill="#000"/>
<rect x="68.12" y="661.14" width="3.87" height="7.22" fill="#000"/>
<rect x="73.91" y="661.14" width="3.22" height="7.22" fill="#000"/>
<rect x="79.07" y="661.14" width="1.93" height="7.22" fill="#000"/>
<rect x="82.93" y="661.14" width="1.93" height="7.22" fill="#000"/>
<rect x="84.87" y="661.14" width="1.93" height="7.22" fill="#8c8c8c"/>
<rect x="90.02" y="661.14" width="1.93" height="7.22" fill="#000"/>
<rect x="93.88" y="661.14" width="7.09" height="7.22" fill="#000"/>
<rect x="104.84" y="661.14" width="1.93" height="7.22" fill="#000"/>
<rect x="42.35" y="668.02" width="3.22" height="7.22" fill="#000"/>
<rect x="51.37" y="668.02" width="1.93" height="7.22" fill="#000"/>
<rect x="64.25" y="668.02" width="1.93" height="7.22" fill="#000"/>
<rect x="68.12" y="668.02" width="1.29" height="7.22" fill="#8c8c8c"/>
<rect x="77.13" y="668.02" width="3.87" height="7.22" fill="#8c8c8c"/>
<rect x="81.00" y="668.02" width="5.15" height="7.22" fill="#8c8c8c"/>
<rect x="86.15" y="668.02" width="1.93" height="7.22" fill="#000"/>
<rect x="88.09" y="668.02" width="3.87" height="7.22" fill="#8c8c8c"/>
<rect x="93.88" y="668.02" width="3.22" height="7.22" fill="#8c8c8c"/>
<rect x="97.11" y="668.02" width="1.93" height="7.22" fill="#000"/>
<rect x="99.04" y="668.02" width="1.93" height="7.22" fill="#8c8c8c"/>
<rect x="100.97" y="668.02" width="5.80" height="7.22" fill="#000"/>
</g>
<line x1="217.7" y1="475.6" x2="217.7" y2="537.4" stroke="#f0c680" stroke-width="0.8"/>
<line x1="217.7" y1="537.4" x2="217.7" y2="626.8" stroke="#66a63f" stroke-width="0.8"/>
<line x1="217.7" y1="626.8" x2="217.7" y2="674.9" stroke="#7b4a9c" stroke-width="0.8"/>
<text opacity="0.99" x="221.3" y="479.7" font-size="5.2" fill="#2a2a2a" stroke="none">ZSCAN4</text>
<text opacity="0.99" x="221.3" y="486.582" font-size="5.2" fill="#2a2a2a" stroke="none">GPAM</text>
<text opacity="0.99" x="221.3" y="493.464" font-size="5.2" fill="#2a2a2a" stroke="none">ID3</text>
<text opacity="0.99" x="221.3" y="500.346" font-size="5.2" fill="#2a2a2a" stroke="none">IGF2BP2</text>
<text opacity="0.99" x="221.3" y="507.228" font-size="5.2" fill="#2a2a2a" stroke="none">DERA</text>
<text opacity="0.99" x="221.3" y="514.11" font-size="5.2" fill="#2a2a2a" stroke="none">TUSC5</text>
<text opacity="0.99" x="221.3" y="520.992" font-size="5.2" fill="#2a2a2a" stroke="none">TP53 (p.R248W)</text>
<text opacity="0.99" x="221.3" y="527.874" font-size="5.2" fill="#2a2a2a" stroke="none">TP53 (p.R337C)</text>
<text opacity="0.99" x="221.3" y="534.756" font-size="5.2" fill="#2a2a2a" stroke="none">DHDH</text>
<text opacity="0.99" x="221.3" y="541.638" font-size="5.2" fill="#2a2a2a" stroke="none">MS4A1 (p.N166Tfs*)</text>
<text opacity="0.99" x="221.3" y="548.52" font-size="5.2" fill="#2a2a2a" stroke="none">LRP1</text>
<text opacity="0.99" x="221.3" y="555.402" font-size="5.2" fill="#2a2a2a" stroke="none">AKAP9</text>
<text opacity="0.99" x="221.3" y="562.284" font-size="5.2" fill="#2a2a2a" stroke="none">ZNF45</text>
<text opacity="0.99" x="221.3" y="569.1659999999999" font-size="5.2" fill="#2a2a2a" stroke="none">CP</text>
<text opacity="0.99" x="221.3" y="576.048" font-size="5.2" fill="#2a2a2a" stroke="none">NUP210</text>
<text opacity="0.99" x="221.3" y="582.93" font-size="5.2" fill="#2a2a2a" stroke="none">PPP1CA</text>
<text opacity="0.99" x="221.3" y="589.812" font-size="5.2" fill="#2a2a2a" stroke="none">DPPA2</text>
<text opacity="0.99" x="221.3" y="596.694" font-size="5.2" fill="#2a2a2a" stroke="none">URB2</text>
<text opacity="0.99" x="221.3" y="603.576" font-size="5.2" fill="#2a2a2a" stroke="none">UNC93B1</text>
<text opacity="0.99" x="221.3" y="610.458" font-size="5.2" fill="#2a2a2a" stroke="none">SYBU</text>
<text opacity="0.99" x="221.3" y="617.3399999999999" font-size="5.2" fill="#2a2a2a" stroke="none">ZNF7</text>
<text opacity="0.99" x="221.3" y="624.222" font-size="5.2" fill="#2a2a2a" stroke="none">DDR2</text>
<text opacity="0.99" x="221.3" y="631.104" font-size="5.2" fill="#2a2a2a" stroke="none">ARHGAP35</text>
<text opacity="0.99" x="221.3" y="637.986" font-size="5.2" fill="#2a2a2a" stroke="none">MS4A1 (p.G98R)</text>
<text opacity="0.99" x="221.3" y="644.8679999999999" font-size="5.2" fill="#2a2a2a" stroke="none">SCMH1</text>
<text opacity="0.99" x="221.3" y="651.75" font-size="5.2" fill="#2a2a2a" stroke="none">RELN</text>
<text opacity="0.99" x="221.3" y="658.632" font-size="5.2" fill="#2a2a2a" stroke="none">INPP4B</text>
<text opacity="0.99" x="221.3" y="665.514" font-size="5.2" fill="#2a2a2a" stroke="none">SBK1</text>
<text opacity="0.99" x="221.3" y="672.396" font-size="5.2" fill="#2a2a2a" stroke="none">NR3C1</text>
<path d="M16.01 463.20L16.01 458.40M17.44 463.20L17.44 458.40M16.01 458.40L17.44 458.40M18.86 463.20L18.86 458.05M20.29 463.20L20.29 458.05M18.86 458.05L20.29 458.05M16.73 458.40L16.73 455.40M19.58 458.05L19.58 455.40M16.73 455.40L19.58 455.40M21.71 463.20L21.71 458.69M23.14 463.20L23.14 458.69M21.71 458.69L23.14 458.69M24.56 463.20L24.56 458.62M25.99 463.20L25.99 458.62M24.56 458.62L25.99 458.62M22.43 458.69L22.43 455.80M25.27 458.62L25.27 455.80M22.43 455.80L25.27 455.80M28.84 463.20L28.84 458.60M30.26 463.20L30.26 458.60M28.84 458.60L30.26 458.60M29.55 458.60L29.55 457.11M31.69 463.20L31.69 457.11M29.55 457.11L31.69 457.11M27.41 463.20L27.41 455.20M30.62 457.11L30.62 455.20M27.41 455.20L30.62 455.20M35.96 463.20L35.96 458.23M37.39 463.20L37.39 458.23M35.96 458.23L37.39 458.23M34.54 463.20L34.54 456.63M36.68 458.23L36.68 456.63M34.54 456.63L36.68 456.63M33.11 463.20L33.11 454.20M35.61 456.63L35.61 454.20M33.11 454.20L35.61 454.20M38.81 463.20L38.81 459.59M40.24 463.20L40.24 459.59M38.81 459.59L40.24 459.59M39.52 459.59L39.52 458.57M41.66 463.20L41.66 458.57M39.52 458.57L41.66 458.57M43.09 463.20L43.09 458.99M44.51 463.20L44.51 458.99M43.09 458.99L44.51 458.99M40.59 458.57L40.59 455.60M43.80 458.99L43.80 455.60M40.59 455.60L43.80 455.60M47.36 463.20L47.36 459.53M48.79 463.20L48.79 459.53M47.36 459.53L48.79 459.53M45.94 463.20L45.94 458.07M48.08 459.53L48.08 458.07M45.94 458.07L48.08 458.07M50.21 463.20L50.21 459.18M51.64 463.20L51.64 459.18M50.21 459.18L51.64 459.18M47.01 458.07L47.01 455.00M50.93 459.18L50.93 455.00M47.01 455.00L50.93 455.00M53.06 463.20L53.06 459.05M54.49 463.20L54.49 459.05M53.06 459.05L54.49 459.05M55.91 463.20L55.91 459.24M57.34 463.20L57.34 459.24M55.91 459.24L57.34 459.24M53.77 459.05L53.77 456.00M56.63 459.24L56.63 456.00M53.77 456.00L56.63 456.00M58.76 463.20L58.76 459.06M60.19 463.20L60.19 459.06M58.76 459.06L60.19 459.06M61.61 463.20L61.61 459.10M63.04 463.20L63.04 459.10M61.61 459.10L63.04 459.10M62.33 459.10L62.33 457.60M64.46 463.20L64.46 457.60M62.33 457.60L64.46 457.60M59.48 459.06L59.48 455.40M63.39 457.60L63.39 455.40M59.48 455.40L63.39 455.40M65.89 463.20L65.89 458.55M67.31 463.20L67.31 458.55M65.89 458.55L67.31 458.55M68.74 463.20L68.74 458.74M70.16 463.20L70.16 458.74M68.74 458.74L70.16 458.74M66.60 458.55L66.60 455.80M69.45 458.74L69.45 455.80M66.60 455.80L69.45 455.80M71.59 463.20L71.59 458.65M73.01 463.20L73.01 458.65M71.59 458.65L73.01 458.65M74.44 463.20L74.44 458.65M75.86 463.20L75.86 458.65M74.44 458.65L75.86 458.65M72.30 458.65L72.30 456.40M75.15 458.65L75.15 456.40M72.30 456.40L75.15 456.40M78.71 463.20L78.71 460.47M80.14 463.20L80.14 460.47M78.71 460.47L80.14 460.47M77.29 463.20L77.29 459.14M79.43 460.47L79.43 459.14M77.29 459.14L79.43 459.14M81.56 463.20L81.56 460.21M82.99 463.20L82.99 460.21M81.56 460.21L82.99 460.21M78.36 459.14L78.36 457.40M82.28 460.21L82.28 457.40M78.36 457.40L82.28 457.40M87.26 463.20L87.26 459.91M88.69 463.20L88.69 459.91M87.26 459.91L88.69 459.91M85.84 463.20L85.84 458.88M87.97 459.91L87.97 458.88M85.84 458.88L87.97 458.88M84.41 463.20L84.41 457.80M86.91 458.88L86.91 457.80M84.41 457.80L86.91 457.80M90.11 463.20L90.11 459.68M91.54 463.20L91.54 459.68M90.11 459.68L91.54 459.68M94.39 463.20L94.39 460.31M95.81 463.20L95.81 460.31M94.39 460.31L95.81 460.31M92.96 463.20L92.96 458.88M95.10 460.31L95.10 458.88M92.96 458.88L95.10 458.88M90.82 459.68L90.82 457.20M94.03 458.88L94.03 457.20M90.82 457.20L94.03 457.20M97.24 463.20L97.24 460.25M98.66 463.20L98.66 460.25M97.24 460.25L98.66 460.25M97.95 460.25L97.95 458.97M100.09 463.20L100.09 458.97M97.95 458.97L100.09 458.97M99.02 458.97L99.02 457.60M101.51 463.20L101.51 457.60M99.02 457.60L101.51 457.60M104.36 463.20L104.36 460.45M105.79 463.20L105.79 460.45M104.36 460.45L105.79 460.45M105.07 460.45L105.07 459.15M107.21 463.20L107.21 459.15M105.07 459.15L107.21 459.15M102.94 463.20L102.94 458.00M106.14 459.15L106.14 458.00M102.94 458.00L106.14 458.00M18.15 455.40L18.15 453.60M23.85 455.80L23.85 453.60M18.15 453.60L23.85 453.60M21.00 453.60L21.00 451.40M29.02 455.20L29.02 451.40M21.00 451.40L29.02 451.40M34.36 454.20L34.36 453.40M42.20 455.60L42.20 453.40M34.36 453.40L42.20 453.40M38.28 453.40L38.28 452.40M48.97 455.00L48.97 452.40M38.28 452.40L48.97 452.40M55.20 456.00L55.20 453.80M61.43 455.40L61.43 453.80M55.20 453.80L61.43 453.80M68.03 455.80L68.03 454.60M73.73 456.40L73.73 454.60M68.03 454.60L73.73 454.60M80.32 457.40L80.32 456.20M85.66 457.80L85.66 456.20M80.32 456.20L85.66 456.20M82.99 456.20L82.99 455.20M92.43 457.20L92.43 455.20M82.99 455.20L92.43 455.20M100.27 457.60L100.27 456.60M104.54 458.00L104.54 456.60M100.27 456.60L104.54 456.60M58.32 453.80L58.32 452.80M70.88 454.60L70.88 452.80M58.32 452.80L70.88 452.80M43.62 452.40L43.62 451.60M64.60 452.80L64.60 451.60M43.62 451.60L64.60 451.60M87.71 455.20L87.71 453.40M102.40 456.60L102.40 453.40M87.71 453.40L102.40 453.40M54.11 451.60L54.11 450.90M95.06 453.40L95.06 450.90M54.11 450.90L95.06 450.90M25.01 451.40L25.01 450.00M74.58 450.90L74.58 450.00M25.01 450.00L74.58 450.00M108.64 463.20L108.64 451.20M110.06 463.20L110.06 451.20M108.64 451.20L110.06 451.20M112.91 463.20L112.91 458.47M114.34 463.20L114.34 458.47M112.91 458.47L114.34 458.47M113.62 458.47L113.62 456.89M115.76 463.20L115.76 456.89M113.62 456.89L115.76 456.89M111.49 463.20L111.49 454.60M114.69 456.89L114.69 454.60M111.49 454.60L114.69 454.60M117.19 463.20L117.19 459.32M118.61 463.20L118.61 459.32M117.19 459.32L118.61 459.32M121.46 463.20L121.46 459.66M122.89 463.20L122.89 459.66M121.46 459.66L122.89 459.66M120.04 463.20L120.04 458.50M122.18 459.66L122.18 458.50M120.04 458.50L122.18 458.50M117.90 459.32L117.90 455.60M121.11 458.50L121.11 455.60M117.90 455.60L121.11 455.60M124.31 463.20L124.31 459.28M125.74 463.20L125.74 459.28M124.31 459.28L125.74 459.28M128.59 463.20L128.59 459.63M130.01 463.20L130.01 459.63M128.59 459.63L130.01 459.63M127.16 463.20L127.16 458.41M129.30 459.63L129.30 458.41M127.16 458.41L129.30 458.41M125.03 459.28L125.03 456.00M128.23 458.41L128.23 456.00M125.03 456.00L128.23 456.00M131.44 463.20L131.44 459.33M132.86 463.20L132.86 459.33M131.44 459.33L132.86 459.33M135.71 463.20L135.71 460.29M137.14 463.20L137.14 460.29M135.71 460.29L137.14 460.29M134.29 463.20L134.29 458.86M136.43 460.29L136.43 458.86M134.29 458.86L136.43 458.86M132.15 459.33L132.15 456.20M135.36 458.86L135.36 456.20M132.15 456.20L135.36 456.20M138.56 463.20L138.56 459.31M139.99 463.20L139.99 459.31M138.56 459.31L139.99 459.31M142.84 463.20L142.84 459.59M144.26 463.20L144.26 459.59M142.84 459.59L144.26 459.59M141.41 463.20L141.41 458.49M143.55 459.59L143.55 458.49M141.41 458.49L143.55 458.49M139.28 459.31L139.28 456.60M142.48 458.49L142.48 456.60M139.28 456.60L142.48 456.60M145.69 463.20L145.69 460.04M147.11 463.20L147.11 460.04M145.69 460.04L147.11 460.04M148.54 463.20L148.54 460.37M149.96 463.20L149.96 460.37M148.54 460.37L149.96 460.37M149.25 460.37L149.25 458.88M151.39 463.20L151.39 458.88M149.25 458.88L151.39 458.88M146.40 460.04L146.40 457.20M150.32 458.88L150.32 457.20M146.40 457.20L150.32 457.20M154.24 463.20L154.24 460.54M155.66 463.20L155.66 460.54M154.24 460.54L155.66 460.54M152.81 463.20L152.81 459.66M154.95 460.54L154.95 459.66M152.81 459.66L154.95 459.66M157.09 463.20L157.09 460.29M158.51 463.20L158.51 460.29M157.09 460.29L158.51 460.29M153.88 459.66L153.88 457.60M157.80 460.29L157.80 457.60M153.88 457.60L157.80 457.60M159.94 463.20L159.94 460.65M161.36 463.20L161.36 460.65M159.94 460.65L161.36 460.65M162.79 463.20L162.79 461.04M164.21 463.20L164.21 461.04M162.79 461.04L164.21 461.04M163.50 461.04L163.50 460.00M165.64 463.20L165.64 460.00M163.50 460.00L165.64 460.00M160.65 460.65L160.65 458.00M164.57 460.00L164.57 458.00M160.65 458.00L164.57 458.00M168.49 463.20L168.49 460.70M169.91 463.20L169.91 460.70M168.49 460.70L169.91 460.70M167.06 463.20L167.06 459.99M169.20 460.70L169.20 459.99M167.06 459.99L169.20 459.99M171.34 463.20L171.34 460.57M172.76 463.20L172.76 460.57M171.34 460.57L172.76 460.57M168.13 459.99L168.13 458.30M172.05 460.57L172.05 458.30M168.13 458.30L172.05 458.30M175.61 463.20L175.61 461.00M177.04 463.20L177.04 461.00M175.61 461.00L177.04 461.00M174.19 463.20L174.19 459.88M176.33 461.00L176.33 459.88M174.19 459.88L176.33 459.88M178.46 463.20L178.46 460.52M179.89 463.20L179.89 460.52M178.46 460.52L179.89 460.52M175.26 459.88L175.26 458.60M179.18 460.52L179.18 458.60M175.26 458.60L179.18 458.60M182.74 463.20L182.74 461.20M184.16 463.20L184.16 461.20M182.74 461.20L184.16 461.20M181.31 463.20L181.31 460.52M183.45 461.20L183.45 460.52M181.31 460.52L183.45 460.52M185.59 463.20L185.59 460.74M187.01 463.20L187.01 460.74M185.59 460.74L187.01 460.74M182.38 460.52L182.38 459.00M186.30 460.74L186.30 459.00M182.38 459.00L186.30 459.00M188.44 463.20L188.44 460.91M189.86 463.20L189.86 460.91M188.44 460.91L189.86 460.91M191.29 463.20L191.29 461.22M192.71 463.20L192.71 461.22M191.29 461.22L192.71 461.22M192.00 461.22L192.00 460.38M194.14 463.20L194.14 460.38M192.00 460.38L194.14 460.38M189.15 460.91L189.15 459.30M193.07 460.38L193.07 459.30M189.15 459.30L193.07 459.30M195.56 463.20L195.56 461.44M196.99 463.20L196.99 461.44M195.56 461.44L196.99 461.44M199.84 463.20L199.84 461.24M201.26 463.20L201.26 461.24M199.84 461.24L201.26 461.24M198.41 463.20L198.41 460.55M200.55 461.24L200.55 460.55M198.41 460.55L200.55 460.55M196.28 461.44L196.28 459.60M199.48 460.55L199.48 459.60M196.28 459.60L199.48 459.60M202.69 463.20L202.69 461.37M204.11 463.20L204.11 461.37M202.69 461.37L204.11 461.37M206.96 463.20L206.96 461.60M208.39 463.20L208.39 461.60M206.96 461.60L208.39 461.60M205.54 463.20L205.54 461.01M207.68 461.60L207.68 461.01M205.54 461.01L207.68 461.01M203.40 461.37L203.40 460.00M206.61 461.01L206.61 460.00M203.40 460.00L206.61 460.00M209.81 463.20L209.81 461.59M211.24 463.20L211.24 461.59M209.81 461.59L211.24 461.59M212.66 463.20L212.66 461.53M214.09 463.20L214.09 461.53M212.66 461.53L214.09 461.53M210.53 461.59L210.53 460.30M213.38 461.53L213.38 460.30M210.53 460.30L213.38 460.30M205.00 460.00L205.00 459.40M211.95 460.30L211.95 459.40M205.00 459.40L211.95 459.40M197.88 459.60L197.88 459.00M208.48 459.40L208.48 459.00M197.88 459.00L208.48 459.00M191.11 459.30L191.11 458.60M203.18 459.00L203.18 458.60M191.11 458.60L203.18 458.60M184.34 459.00L184.34 458.20M197.14 458.60L197.14 458.20M184.34 458.20L197.14 458.20M177.22 458.60L177.22 457.80M190.74 458.20L190.74 457.80M177.22 457.80L190.74 457.80M170.09 458.30L170.09 457.40M183.98 457.80L183.98 457.40M170.09 457.40L183.98 457.40M162.61 458.00L162.61 456.90M177.03 457.40L177.03 456.90M162.61 456.90L177.03 456.90M155.84 457.60L155.84 456.40M169.82 456.90L169.82 456.40M155.84 456.40L169.82 456.40M148.36 457.20L148.36 455.80M162.83 456.40L162.83 455.80M148.36 455.80L162.83 455.80M140.88 456.60L140.88 455.20M155.60 455.80L155.60 455.20M140.88 455.20L155.60 455.20M133.75 456.20L133.75 454.60M148.24 455.20L148.24 454.60M133.75 454.60L148.24 454.60M126.63 456.00L126.63 454.00M140.99 454.60L140.99 454.00M126.63 454.00L140.99 454.00M119.50 455.60L119.50 453.20M133.81 454.00L133.81 453.20M119.50 453.20L133.81 453.20M113.09 454.60L113.09 452.20M126.66 453.20L126.66 452.20M113.09 452.20L126.66 452.20M109.35 451.20L109.35 450.60M119.87 452.20L119.87 450.60M109.35 450.60L119.87 450.60M49.80 450.00L49.80 449.30M114.61 450.60L114.61 449.30M49.80 449.30L114.61 449.30" fill="none" stroke="#0a0a0a" stroke-width="0.6"/>
<rect x="0.6" y="0.6" width="518.8" height="680.8" fill="none" stroke="#000" stroke-width="1.3"/></g>
</svg>
</body></html>
